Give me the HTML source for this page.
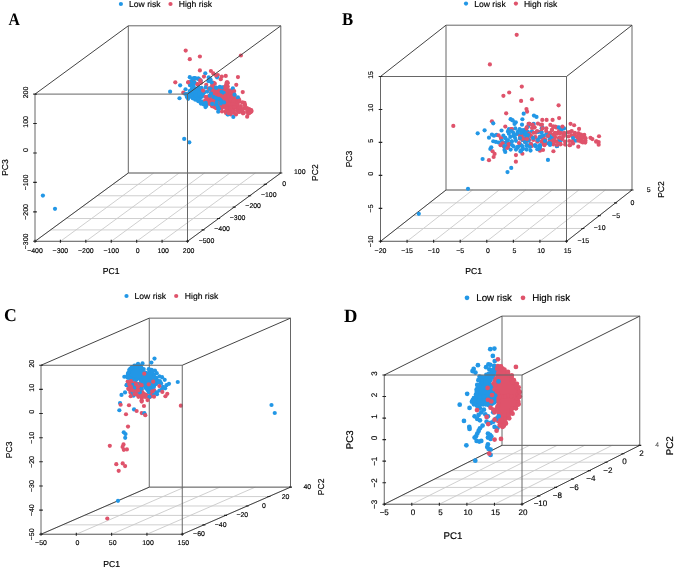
<!DOCTYPE html>
<html><head><meta charset="utf-8"><style>
html,body{margin:0;padding:0;background:#fff;}
svg{display:block;font-family:"Liberation Sans",sans-serif;filter:blur(0.35px);}
text{stroke:#000;stroke-linejoin:round;text-rendering:geometricPrecision;}
</style></head><body>
<svg width="676" height="568" viewBox="0 0 676 568">
<rect width="676" height="568" fill="#fff"/>
<path d="M35 241.3L128.3 173M60.42 241.3L153.72 173M85.83 241.3L179.13 173M111.25 241.3L204.55 173M136.67 241.3L229.97 173M162.08 241.3L255.38 173M187.5 241.3L280.8 173M35 241.3L187.5 241.3M50.55 229.92L203.05 229.92M66.1 218.53L218.6 218.53M81.65 207.15L234.15 207.15M97.2 195.77L249.7 195.77M112.75 184.38L265.25 184.38M128.3 173L280.8 173" stroke="#c9c9c9" stroke-width="0.9" fill="none"/>
<path d="M128.3 25.8L128.3 173L280.8 173" stroke="#666" stroke-width="1" fill="none"/>
<path d="M35 241.3L128.3 173" stroke="#444" stroke-width="1" fill="none"/>
<path d="M208.94 96.08L208.87 96.24L207.04 99.89L208.72 103.16L212.63 105.58L212.64 105.58L215.5 107.38L218.36 105.58L218.47 105.52L218.58 105.48L218.69 105.44L218.81 105.41L218.93 105.4L219.05 105.4L219.17 105.41L219.29 105.44L219.41 105.47L219.52 105.52L219.63 105.58L223.14 107.72L226.55 109.09L229.69 110.34L232.11 109.74L232.16 109.72L235.52 109.05L237.85 107.92L239.03 104.89L239.63 100.72L238.02 99.12L235.2 97.07L235.11 97L235.02 96.92L234.95 96.83L234.88 96.73L234.82 96.63L234.78 96.52L234.74 96.41L234.72 96.3L234.06 92.38L232.33 89.99L229.15 88.71L229.05 88.67L228.95 88.61L228.85 88.54L228.77 88.46L228.69 88.38L228.62 88.29L228.55 88.19L228.5 88.08L228.46 87.98L228.43 87.86L228.41 87.75L227.84 83.2L227.12 83.2L226.58 86.4L226.56 86.51L226.52 86.63L226.47 86.74L226.41 86.84L226.34 86.94L226.26 87.03L226.18 87.12L226.08 87.19L225.98 87.25L225.87 87.3L225.76 87.35L225.64 87.38L225.52 87.39L225.4 87.4L216.2 87.4L216.08 87.39L215.96 87.38L215.84 87.35L215.73 87.3L215.62 87.25L215.52 87.19L215.42 87.12L215.34 87.03L215.26 86.94L215.19 86.84L215.13 86.74L215.08 86.63L215.04 86.51L215.02 86.4L214.48 83.2L212.91 83.2L211.06 89.82L211.04 89.88 Z" fill="#DF536B"/>
<circle cx="208.68" cy="96.47" r="2.1" fill="#DF536B"/>
<circle cx="207.18" cy="98.62" r="2.1" fill="#DF536B"/>
<circle cx="206.98" cy="100.3" r="2.1" fill="#DF536B"/>
<circle cx="208.45" cy="102.25" r="2.1" fill="#DF536B"/>
<circle cx="211.35" cy="103.72" r="2.1" fill="#DF536B"/>
<circle cx="213.47" cy="106.55" r="2.1" fill="#DF536B"/>
<circle cx="215.11" cy="107.17" r="2.1" fill="#DF536B"/>
<circle cx="217.84" cy="106.5" r="2.1" fill="#DF536B"/>
<circle cx="220.55" cy="106.48" r="2.1" fill="#DF536B"/>
<circle cx="223.68" cy="106.69" r="2.1" fill="#DF536B"/>
<circle cx="226.52" cy="108.17" r="2.1" fill="#DF536B"/>
<circle cx="228.51" cy="110.24" r="2.1" fill="#DF536B"/>
<circle cx="230.94" cy="108.76" r="2.1" fill="#DF536B"/>
<circle cx="234.07" cy="108.31" r="2.1" fill="#DF536B"/>
<circle cx="236.46" cy="106.99" r="2.1" fill="#DF536B"/>
<circle cx="237.49" cy="107.14" r="2.1" fill="#DF536B"/>
<circle cx="237.74" cy="104.78" r="2.1" fill="#DF536B"/>
<circle cx="239.75" cy="101.77" r="2.1" fill="#DF536B"/>
<circle cx="239.02" cy="99.34" r="2.1" fill="#DF536B"/>
<circle cx="236.37" cy="99.04" r="2.1" fill="#DF536B"/>
<circle cx="232.86" cy="95.58" r="2.1" fill="#DF536B"/>
<circle cx="233.58" cy="93.01" r="2.1" fill="#DF536B"/>
<circle cx="231.79" cy="91.01" r="2.1" fill="#DF536B"/>
<circle cx="229.61" cy="90.35" r="2.1" fill="#DF536B"/>
<circle cx="227.75" cy="86.54" r="2.1" fill="#DF536B"/>
<circle cx="227.63" cy="83.28" r="2.1" fill="#DF536B"/>
<circle cx="226.8" cy="82.32" r="2.1" fill="#DF536B"/>
<circle cx="226.15" cy="84.67" r="2.1" fill="#DF536B"/>
<circle cx="224.09" cy="87" r="2.1" fill="#DF536B"/>
<circle cx="220.9" cy="88.84" r="2.1" fill="#DF536B"/>
<circle cx="218.68" cy="88.44" r="2.1" fill="#DF536B"/>
<circle cx="213.19" cy="85.64" r="2.1" fill="#DF536B"/>
<circle cx="214.79" cy="83.67" r="2.1" fill="#DF536B"/>
<circle cx="212.46" cy="82.69" r="2.1" fill="#DF536B"/>
<circle cx="212.5" cy="84.56" r="2.1" fill="#DF536B"/>
<circle cx="211.27" cy="87.32" r="2.1" fill="#DF536B"/>
<circle cx="211.21" cy="90.9" r="2.1" fill="#DF536B"/>
<circle cx="210.92" cy="93.68" r="2.1" fill="#DF536B"/>
<path d="M186.2 94.12L186.2 96.55L186.94 97.72L189.51 98.2L192.6 98.2L192.72 98.21L192.84 98.22L192.95 98.25L193.06 98.29L196.16 99.59L196.29 99.66L196.41 99.73L199.01 101.63L199.03 101.64L201.44 103.48L204.88 105.2L206.27 105.2L205.93 104.96L202.85 103.71L202.75 103.67L202.65 103.61L202.56 103.55L202.48 103.47L202.4 103.39L202.33 103.31L202.27 103.22L202.22 103.12L201.02 100.62L200.97 100.51L200.94 100.4L200.91 100.28L200.9 100.17L200.9 100.05L200.91 99.93L200.93 99.82L200.97 99.7L201.01 99.59L201.07 99.49L201.13 99.39L202.97 96.88L204.07 94.58L204.62 92.62L203.53 90.45L202.26 88L201.52 86.83L199.17 87.27L196.72 87.96L196.62 87.98L193.6 88.55L191.28 89.75L188.3 91.52 Z" fill="#2297E6"/>
<circle cx="186.78" cy="94.1" r="2.1" fill="#2297E6"/>
<circle cx="187.7" cy="96.17" r="2.1" fill="#2297E6"/>
<circle cx="186.94" cy="96.99" r="2.1" fill="#2297E6"/>
<circle cx="189.28" cy="96.85" r="2.1" fill="#2297E6"/>
<circle cx="192.8" cy="98.27" r="2.1" fill="#2297E6"/>
<circle cx="195.34" cy="99.63" r="2.1" fill="#2297E6"/>
<circle cx="198.3" cy="101.18" r="2.1" fill="#2297E6"/>
<circle cx="202.08" cy="101.65" r="2.1" fill="#2297E6"/>
<circle cx="203.35" cy="104.37" r="2.1" fill="#2297E6"/>
<circle cx="206.12" cy="106" r="2.1" fill="#2297E6"/>
<circle cx="206.52" cy="104.91" r="2.1" fill="#2297E6"/>
<circle cx="205.71" cy="104.32" r="2.1" fill="#2297E6"/>
<circle cx="200.92" cy="103.62" r="2.1" fill="#2297E6"/>
<circle cx="199.88" cy="97.94" r="2.1" fill="#2297E6"/>
<circle cx="201.79" cy="96.72" r="2.1" fill="#2297E6"/>
<circle cx="202.76" cy="94.26" r="2.1" fill="#2297E6"/>
<circle cx="204.42" cy="92.22" r="2.1" fill="#2297E6"/>
<circle cx="202.16" cy="90.73" r="2.1" fill="#2297E6"/>
<circle cx="201.4" cy="87.75" r="2.1" fill="#2297E6"/>
<circle cx="201.43" cy="89.01" r="2.1" fill="#2297E6"/>
<circle cx="198.53" cy="88.66" r="2.1" fill="#2297E6"/>
<circle cx="194.87" cy="88.46" r="2.1" fill="#2297E6"/>
<circle cx="191.95" cy="88.45" r="2.1" fill="#2297E6"/>
<circle cx="190.86" cy="91.46" r="2.1" fill="#2297E6"/>
<circle cx="189.59" cy="93.6" r="2.1" fill="#2297E6"/>
<circle cx="185.7" cy="50.6" r="2.1" fill="#DF536B"/>
<circle cx="189.8" cy="59.2" r="2.1" fill="#DF536B"/>
<circle cx="199.9" cy="56.5" r="2.1" fill="#DF536B"/>
<circle cx="240.9" cy="55.5" r="2.1" fill="#DF536B"/>
<circle cx="199.9" cy="70.4" r="2.1" fill="#DF536B"/>
<circle cx="175.3" cy="82.3" r="2.1" fill="#DF536B"/>
<circle cx="170.1" cy="91.7" r="2.1" fill="#2297E6"/>
<circle cx="179.5" cy="98.25" r="2.1" fill="#2297E6"/>
<circle cx="180.15" cy="85.3" r="2.1" fill="#2297E6"/>
<circle cx="185.53" cy="89.37" r="2.1" fill="#2297E6"/>
<circle cx="205.3" cy="73.3" r="2.1" fill="#2297E6"/>
<circle cx="210.9" cy="71" r="2.1" fill="#DF536B"/>
<circle cx="213.3" cy="73.4" r="2.1" fill="#DF536B"/>
<circle cx="203.96" cy="76.59" r="2.1" fill="#DF536B"/>
<circle cx="189.77" cy="77.17" r="2.1" fill="#2297E6"/>
<circle cx="194.2" cy="78.1" r="2.1" fill="#2297E6"/>
<circle cx="198.3" cy="78.5" r="2.1" fill="#2297E6"/>
<circle cx="200.5" cy="80.3" r="2.1" fill="#DF536B"/>
<circle cx="208.71" cy="77.44" r="2.1" fill="#2297E6"/>
<circle cx="183.25" cy="92.7" r="2.1" fill="#DF536B"/>
<circle cx="185.3" cy="94" r="2.1" fill="#2297E6"/>
<circle cx="186.94" cy="96.56" r="2.1" fill="#2297E6"/>
<circle cx="190.9" cy="83.7" r="2.1" fill="#2297E6"/>
<circle cx="188.7" cy="82.6" r="2.1" fill="#DF536B"/>
<circle cx="193.5" cy="80.7" r="2.1" fill="#DF536B"/>
<circle cx="184.2" cy="138.9" r="2.1" fill="#2297E6"/>
<circle cx="189.3" cy="142.3" r="2.1" fill="#2297E6"/>
<circle cx="42.9" cy="195.6" r="2.1" fill="#2297E6"/>
<circle cx="55" cy="208.8" r="2.1" fill="#2297E6"/>
<circle cx="217.8" cy="75" r="2.1" fill="#DF536B"/>
<circle cx="221.8" cy="76.6" r="2.1" fill="#DF536B"/>
<circle cx="225.77" cy="75.9" r="2.1" fill="#DF536B"/>
<circle cx="217.05" cy="77.34" r="2.1" fill="#2297E6"/>
<circle cx="237.96" cy="77.09" r="2.1" fill="#DF536B"/>
<circle cx="194.84" cy="78.11" r="2.1" fill="#2297E6"/>
<circle cx="198.46" cy="78.62" r="2.1" fill="#2297E6"/>
<circle cx="216.07" cy="75.52" r="2.1" fill="#DF536B"/>
<circle cx="220.72" cy="79.14" r="2.1" fill="#DF536B"/>
<circle cx="188.62" cy="82.25" r="2.1" fill="#DF536B"/>
<circle cx="191.21" cy="81.21" r="2.1" fill="#2297E6"/>
<circle cx="194.32" cy="82.77" r="2.1" fill="#2297E6"/>
<circle cx="197.43" cy="84.32" r="2.1" fill="#DF536B"/>
<circle cx="200.53" cy="80.7" r="2.1" fill="#2297E6"/>
<circle cx="201.05" cy="82.77" r="2.1" fill="#DF536B"/>
<circle cx="209.85" cy="81.21" r="2.1" fill="#2297E6"/>
<circle cx="210.37" cy="79.14" r="2.1" fill="#2297E6"/>
<circle cx="206.23" cy="84.84" r="2.1" fill="#DF536B"/>
<circle cx="213.75" cy="82.88" r="2.1" fill="#DF536B"/>
<circle cx="212.44" cy="85.36" r="2.1" fill="#DF536B"/>
<circle cx="227.46" cy="82.25" r="2.1" fill="#DF536B"/>
<circle cx="236.26" cy="84.84" r="2.1" fill="#DF536B"/>
<circle cx="190.18" cy="85.36" r="2.1" fill="#2297E6"/>
<circle cx="193.28" cy="85.36" r="2.1" fill="#2297E6"/>
<circle cx="189.66" cy="91.05" r="2.1" fill="#2297E6"/>
<circle cx="194.32" cy="88.46" r="2.1" fill="#2297E6"/>
<circle cx="198.46" cy="87.43" r="2.1" fill="#2297E6"/>
<circle cx="201.57" cy="89.5" r="2.1" fill="#2297E6"/>
<circle cx="203.12" cy="90.53" r="2.1" fill="#DF536B"/>
<circle cx="205.71" cy="87.43" r="2.1" fill="#2297E6"/>
<circle cx="207.26" cy="91.57" r="2.1" fill="#2297E6"/>
<circle cx="208.82" cy="88.46" r="2.1" fill="#DF536B"/>
<circle cx="211.41" cy="89.5" r="2.1" fill="#2297E6"/>
<circle cx="216.07" cy="87.94" r="2.1" fill="#2297E6"/>
<circle cx="219.84" cy="86.9" r="2.1" fill="#2297E6"/>
<circle cx="222.28" cy="87.43" r="2.1" fill="#2297E6"/>
<circle cx="225.38" cy="87.43" r="2.1" fill="#DF536B"/>
<circle cx="232.87" cy="88.38" r="2.1" fill="#2297E6"/>
<circle cx="212.96" cy="90.53" r="2.1" fill="#DF536B"/>
<circle cx="216.07" cy="91.57" r="2.1" fill="#DF536B"/>
<circle cx="221.57" cy="91.73" r="2.1" fill="#2297E6"/>
<circle cx="223.66" cy="92.86" r="2.1" fill="#2297E6"/>
<circle cx="227.46" cy="90.53" r="2.1" fill="#DF536B"/>
<circle cx="230.56" cy="92.6" r="2.1" fill="#DF536B"/>
<circle cx="234.19" cy="91.05" r="2.1" fill="#DF536B"/>
<circle cx="242.73" cy="92.09" r="2.1" fill="#DF536B"/>
<circle cx="191.21" cy="95.71" r="2.1" fill="#2297E6"/>
<circle cx="195.87" cy="95.19" r="2.1" fill="#2297E6"/>
<circle cx="199.5" cy="93.64" r="2.1" fill="#2297E6"/>
<circle cx="202.6" cy="95.71" r="2.1" fill="#2297E6"/>
<circle cx="205.71" cy="96.75" r="2.1" fill="#DF536B"/>
<circle cx="207.26" cy="98.82" r="2.1" fill="#DF536B"/>
<circle cx="209.85" cy="95.71" r="2.1" fill="#2297E6"/>
<circle cx="212.44" cy="94.67" r="2.1" fill="#DF536B"/>
<circle cx="215.03" cy="95.71" r="2.1" fill="#DF536B"/>
<circle cx="217.1" cy="98.82" r="2.1" fill="#DF536B"/>
<circle cx="219.17" cy="95.71" r="2.1" fill="#DF536B"/>
<circle cx="225.38" cy="95.71" r="2.1" fill="#DF536B"/>
<circle cx="228.49" cy="95.71" r="2.1" fill="#DF536B"/>
<circle cx="231.6" cy="96.75" r="2.1" fill="#DF536B"/>
<circle cx="234.7" cy="95.71" r="2.1" fill="#DF536B"/>
<circle cx="237.96" cy="97.38" r="2.1" fill="#2297E6"/>
<circle cx="188.11" cy="98.82" r="2.1" fill="#2297E6"/>
<circle cx="193.28" cy="98.3" r="2.1" fill="#2297E6"/>
<circle cx="198.46" cy="99.33" r="2.1" fill="#2297E6"/>
<circle cx="201.57" cy="101.66" r="2.1" fill="#2297E6"/>
<circle cx="205.19" cy="100.37" r="2.1" fill="#DF536B"/>
<circle cx="208.82" cy="101.92" r="2.1" fill="#DF536B"/>
<circle cx="211.92" cy="100.37" r="2.1" fill="#DF536B"/>
<circle cx="217.1" cy="99.33" r="2.1" fill="#2297E6"/>
<circle cx="220.21" cy="99.85" r="2.1" fill="#2297E6"/>
<circle cx="222.28" cy="101.92" r="2.1" fill="#DF536B"/>
<circle cx="226.42" cy="100.89" r="2.1" fill="#DF536B"/>
<circle cx="230.56" cy="99.85" r="2.1" fill="#DF536B"/>
<circle cx="233.67" cy="100.89" r="2.1" fill="#DF536B"/>
<circle cx="238.85" cy="100.89" r="2.1" fill="#DF536B"/>
<circle cx="242.48" cy="102.46" r="2.1" fill="#DF536B"/>
<circle cx="244.54" cy="102.96" r="2.1" fill="#DF536B"/>
<circle cx="205.71" cy="102.96" r="2.1" fill="#2297E6"/>
<circle cx="209.85" cy="103.99" r="2.1" fill="#DF536B"/>
<circle cx="213.99" cy="102.96" r="2.1" fill="#DF536B"/>
<circle cx="216.07" cy="105.03" r="2.1" fill="#2297E6"/>
<circle cx="219.17" cy="106.07" r="2.1" fill="#DF536B"/>
<circle cx="221.24" cy="103.48" r="2.1" fill="#2297E6"/>
<circle cx="224.35" cy="105.03" r="2.1" fill="#DF536B"/>
<circle cx="228.49" cy="103.99" r="2.1" fill="#DF536B"/>
<circle cx="232.63" cy="103.99" r="2.1" fill="#DF536B"/>
<circle cx="236.78" cy="105.03" r="2.1" fill="#DF536B"/>
<circle cx="240.92" cy="106.07" r="2.1" fill="#DF536B"/>
<circle cx="245.06" cy="105.03" r="2.1" fill="#DF536B"/>
<circle cx="205.46" cy="107.05" r="2.1" fill="#2297E6"/>
<circle cx="211.92" cy="106.07" r="2.1" fill="#DF536B"/>
<circle cx="216.07" cy="108.14" r="2.1" fill="#DF536B"/>
<circle cx="218.14" cy="108.14" r="2.1" fill="#2297E6"/>
<circle cx="221.76" cy="108.14" r="2.1" fill="#DF536B"/>
<circle cx="226.42" cy="108.14" r="2.1" fill="#DF536B"/>
<circle cx="230.56" cy="108.14" r="2.1" fill="#DF536B"/>
<circle cx="234.7" cy="107.1" r="2.1" fill="#DF536B"/>
<circle cx="238.85" cy="108.14" r="2.1" fill="#DF536B"/>
<circle cx="249.2" cy="109.17" r="2.1" fill="#DF536B"/>
<circle cx="251.27" cy="110.21" r="2.1" fill="#DF536B"/>
<circle cx="218.22" cy="111.68" r="2.1" fill="#2297E6"/>
<circle cx="225.38" cy="111.24" r="2.1" fill="#DF536B"/>
<circle cx="230.56" cy="110.72" r="2.1" fill="#DF536B"/>
<circle cx="239.88" cy="110.72" r="2.1" fill="#DF536B"/>
<circle cx="242.99" cy="112.28" r="2.1" fill="#DF536B"/>
<circle cx="247.13" cy="111.76" r="2.1" fill="#DF536B"/>
<circle cx="250.24" cy="112.28" r="2.1" fill="#DF536B"/>
<circle cx="227.46" cy="114.35" r="2.1" fill="#2297E6"/>
<circle cx="230.56" cy="114.35" r="2.1" fill="#DF536B"/>
<circle cx="242.99" cy="113.31" r="2.1" fill="#DF536B"/>
<circle cx="248.17" cy="113.83" r="2.1" fill="#DF536B"/>
<circle cx="233.33" cy="116.92" r="2.1" fill="#2297E6"/>
<circle cx="247.17" cy="116.72" r="2.1" fill="#DF536B"/>
<circle cx="245" cy="105" r="2.1" fill="#DF536B"/>
<circle cx="241.6" cy="111.6" r="2.1" fill="#DF536B"/>
<circle cx="243.7" cy="113" r="2.1" fill="#DF536B"/>
<circle cx="250" cy="110.2" r="2.1" fill="#DF536B"/>
<circle cx="251.4" cy="111.6" r="2.1" fill="#DF536B"/>
<circle cx="249.3" cy="113" r="2.1" fill="#DF536B"/>
<circle cx="244" cy="108" r="2.1" fill="#DF536B"/>
<circle cx="247" cy="108" r="2.1" fill="#DF536B"/>
<circle cx="238" cy="112" r="2.1" fill="#DF536B"/>
<circle cx="234" cy="113" r="2.1" fill="#DF536B"/>
<circle cx="230" cy="114" r="2.1" fill="#DF536B"/>
<circle cx="226" cy="113" r="2.1" fill="#DF536B"/>
<circle cx="222" cy="111.5" r="2.1" fill="#DF536B"/>
<circle cx="236" cy="114.5" r="2.1" fill="#DF536B"/>
<circle cx="219" cy="98.9" r="2.1" fill="#2297E6"/>
<circle cx="221.2" cy="101" r="2.1" fill="#2297E6"/>
<circle cx="224" cy="102.4" r="2.1" fill="#2297E6"/>
<circle cx="217.6" cy="106" r="2.1" fill="#2297E6"/>
<circle cx="219" cy="108.8" r="2.1" fill="#2297E6"/>
<circle cx="228.2" cy="114.4" r="2.1" fill="#2297E6"/>
<circle cx="234.5" cy="94.7" r="2.1" fill="#2297E6"/>
<circle cx="216.2" cy="87.6" r="2.1" fill="#2297E6"/>
<circle cx="192.6" cy="78.5" r="2.1" fill="#2297E6"/>
<circle cx="196.4" cy="78.5" r="2.1" fill="#2297E6"/>
<circle cx="198.9" cy="79.2" r="2.1" fill="#2297E6"/>
<circle cx="190.7" cy="82.3" r="2.1" fill="#2297E6"/>
<circle cx="194.5" cy="82.3" r="2.1" fill="#2297E6"/>
<circle cx="190" cy="84.9" r="2.1" fill="#2297E6"/>
<circle cx="208.4" cy="81.1" r="2.1" fill="#2297E6"/>
<circle cx="210.3" cy="79.8" r="2.1" fill="#2297E6"/>
<circle cx="211.6" cy="82.3" r="2.1" fill="#2297E6"/>
<circle cx="188.1" cy="82.3" r="2.1" fill="#DF536B"/>
<circle cx="200.2" cy="80.4" r="2.1" fill="#DF536B"/>
<circle cx="197.6" cy="84.2" r="2.1" fill="#DF536B"/>
<circle cx="209.7" cy="88.7" r="2.1" fill="#2297E6"/>
<circle cx="211" cy="93.7" r="2.1" fill="#2297E6"/>
<circle cx="213.5" cy="96.9" r="2.1" fill="#2297E6"/>
<circle cx="216" cy="98.2" r="2.1" fill="#2297E6"/>
<circle cx="212.2" cy="103.9" r="2.1" fill="#2297E6"/>
<circle cx="216.7" cy="102.6" r="2.1" fill="#2297E6"/>
<circle cx="234" cy="110.8" r="2.1" fill="#DF536B"/>
<circle cx="237.2" cy="110.2" r="2.1" fill="#DF536B"/>
<circle cx="240.5" cy="108.6" r="2.1" fill="#DF536B"/>
<circle cx="242.3" cy="109.8" r="2.1" fill="#DF536B"/>
<circle cx="245.6" cy="108.7" r="2.1" fill="#DF536B"/>
<circle cx="231" cy="112.3" r="2.1" fill="#DF536B"/>
<circle cx="239.5" cy="111.8" r="2.1" fill="#DF536B"/>
<circle cx="228.5" cy="113.2" r="2.1" fill="#DF536B"/>
<path d="M35 94.1L187.5 94.1L187.5 241.3L35 241.3ZM128.3 25.8L280.8 25.8L280.8 173" stroke="#666" stroke-width="1" fill="none"/>
<path d="M35 94.1L128.3 25.8M187.5 94.1L280.8 25.8M187.5 241.3L280.8 173" stroke="#444" stroke-width="1" fill="none"/>
<path d="M35 239.8L35 242.8M60.42 239.8L60.42 242.8M85.83 239.8L85.83 242.8M111.25 239.8L111.25 242.8M136.67 239.8L136.67 242.8M162.08 239.8L162.08 242.8M187.5 239.8L187.5 242.8M33.2 241.3L36.8 241.3M33.2 211.86L36.8 211.86M33.2 182.42L36.8 182.42M33.2 152.98L36.8 152.98M33.2 123.54L36.8 123.54M33.2 94.1L36.8 94.1M186 241.3L189 241.3M201.55 229.92L204.55 229.92M217.1 218.53L220.1 218.53M232.65 207.15L235.65 207.15M248.2 195.77L251.2 195.77M263.75 184.38L266.75 184.38M279.3 173L282.3 173" stroke="#222" stroke-width="1.1" fill="none"/>
<g font-size="6.95" fill="#000" text-anchor="middle" style="stroke-width:0.15px">
<text x="35" y="253.07">−400</text>
<text x="60.42" y="253.07">−300</text>
<text x="85.83" y="253.07">−200</text>
<text x="111.25" y="253.07">−100</text>
<text x="137.77" y="253.07">0</text>
<text x="163.18" y="253.07">100</text>
<text x="188.6" y="253.07">200</text>
<text transform="translate(25.5 241.4) rotate(-90)" y="2.47">−300</text>
<text transform="translate(25.5 211.96) rotate(-90)" y="2.47">−200</text>
<text transform="translate(25.5 182.52) rotate(-90)" y="2.47">−100</text>
<text transform="translate(25.5 150.08) rotate(-90)" y="2.47">0</text>
<text transform="translate(25.5 121.94) rotate(-90)" y="2.47">100</text>
<text transform="translate(25.5 92.5) rotate(-90)" y="2.47">200</text>
<text x="206.5" y="242.57">−500</text>
<text x="222.05" y="231.18">−400</text>
<text x="237.6" y="219.8">−300</text>
<text x="253.15" y="208.42">−200</text>
<text x="268.7" y="197.03">−100</text>
<text x="284.25" y="185.65">0</text>
<text x="299.8" y="174.27">100</text>
</g>
<g font-size="8.6" fill="#000" text-anchor="middle" style="stroke-width:0.18px">
<text x="111.2" y="274">PC1</text>
<text transform="translate(7.6 167.5) rotate(-90)">PC3</text>
<text transform="translate(318.1 172.7) rotate(-90)">PC2</text>
</g>
<circle cx="120.9" cy="4" r="2.1" fill="#2297E6"/>
<circle cx="170.5" cy="4" r="2.1" fill="#DF536B"/>
<text x="129" y="7" font-size="8.6" fill="#000" style="stroke-width:0.15px">Low risk</text>
<text x="178.7" y="7" font-size="8.6" fill="#000" style="stroke-width:0.15px">High risk</text>
<text transform="translate(8.5 25.4) scale(0.9 1)" font-family="Liberation Serif, serif" font-weight="bold" font-size="17.5" fill="#000" style="stroke:none">A</text>
<path d="M380.5 241.3L446 190M407.07 241.3L472.57 190M433.64 241.3L499.14 190M460.21 241.3L525.71 190M486.79 241.3L552.29 190M513.36 241.3L578.86 190M539.93 241.3L605.43 190M566.5 241.3L632 190M380.5 241.3L566.5 241.3M396.88 228.48L582.88 228.48M413.25 215.65L599.25 215.65M429.62 202.83L615.62 202.83M446 190L632 190" stroke="#c9c9c9" stroke-width="0.9" fill="none"/>
<path d="M446 25.2L446 190L632 190" stroke="#666" stroke-width="1" fill="none"/>
<path d="M380.5 241.3L446 190" stroke="#444" stroke-width="1" fill="none"/>
<circle cx="505.3" cy="126.56" r="2.1" fill="#DF536B"/>
<circle cx="511.54" cy="129.2" r="2.1" fill="#DF536B"/>
<circle cx="520.41" cy="136.3" r="2.1" fill="#DF536B"/>
<circle cx="523.96" cy="138.08" r="2.1" fill="#DF536B"/>
<circle cx="525.74" cy="141.63" r="2.1" fill="#DF536B"/>
<circle cx="531.07" cy="144.29" r="2.1" fill="#DF536B"/>
<circle cx="508.88" cy="144.29" r="2.1" fill="#DF536B"/>
<circle cx="502.66" cy="143.4" r="2.1" fill="#DF536B"/>
<circle cx="500.89" cy="138.08" r="2.1" fill="#DF536B"/>
<circle cx="507.99" cy="146.95" r="2.1" fill="#DF536B"/>
<circle cx="522.38" cy="153.73" r="2.1" fill="#DF536B"/>
<circle cx="515.93" cy="155.07" r="2.1" fill="#DF536B"/>
<circle cx="533.73" cy="123.88" r="2.1" fill="#2297E6"/>
<circle cx="541.72" cy="128.31" r="2.1" fill="#2297E6"/>
<circle cx="542.6" cy="138.08" r="2.1" fill="#2297E6"/>
<circle cx="547.93" cy="135.41" r="2.1" fill="#2297E6"/>
<circle cx="549.7" cy="139.85" r="2.1" fill="#2297E6"/>
<circle cx="556.8" cy="146.07" r="2.1" fill="#2297E6"/>
<circle cx="553.25" cy="138.08" r="2.1" fill="#2297E6"/>
<circle cx="510.61" cy="119.15" r="2.1" fill="#2297E6"/>
<circle cx="512.43" cy="120.33" r="2.1" fill="#2297E6"/>
<circle cx="522.38" cy="119.23" r="2.1" fill="#2297E6"/>
<circle cx="515.82" cy="122.26" r="2.1" fill="#2297E6"/>
<circle cx="522.02" cy="124.66" r="2.1" fill="#2297E6"/>
<circle cx="533.96" cy="115.6" r="2.1" fill="#2297E6"/>
<circle cx="536.52" cy="116.93" r="2.1" fill="#2297E6"/>
<circle cx="542.29" cy="119.93" r="2.1" fill="#DF536B"/>
<circle cx="546.61" cy="119.93" r="2.1" fill="#DF536B"/>
<circle cx="552.58" cy="119.9" r="2.1" fill="#DF536B"/>
<circle cx="559.12" cy="118.07" r="2.1" fill="#DF536B"/>
<circle cx="501.53" cy="130.51" r="2.1" fill="#2297E6"/>
<circle cx="507.99" cy="131.42" r="2.1" fill="#2297E6"/>
<circle cx="553.41" cy="151.27" r="2.1" fill="#DF536B"/>
<circle cx="516.7" cy="34.8" r="2.1" fill="#DF536B"/>
<circle cx="489.9" cy="64.4" r="2.1" fill="#DF536B"/>
<circle cx="521.8" cy="86.6" r="2.1" fill="#DF536B"/>
<circle cx="509.2" cy="92.5" r="2.1" fill="#DF536B"/>
<circle cx="503.4" cy="95.8" r="2.1" fill="#DF536B"/>
<circle cx="521.1" cy="100.93" r="2.1" fill="#DF536B"/>
<circle cx="531.99" cy="99.25" r="2.1" fill="#DF536B"/>
<circle cx="558.6" cy="105.31" r="2.1" fill="#DF536B"/>
<circle cx="468" cy="188.8" r="2.1" fill="#2297E6"/>
<circle cx="418.8" cy="213.8" r="2.1" fill="#2297E6"/>
<circle cx="453.31" cy="125.96" r="2.1" fill="#DF536B"/>
<circle cx="526.46" cy="108.99" r="2.1" fill="#DF536B"/>
<circle cx="527.06" cy="111.72" r="2.1" fill="#DF536B"/>
<circle cx="506.17" cy="113.31" r="2.1" fill="#DF536B"/>
<circle cx="523.67" cy="113.71" r="2.1" fill="#2297E6"/>
<circle cx="512.56" cy="120.24" r="2.1" fill="#2297E6"/>
<circle cx="491.92" cy="121.3" r="2.1" fill="#DF536B"/>
<circle cx="493.25" cy="123.3" r="2.1" fill="#2297E6"/>
<circle cx="514.56" cy="123.96" r="2.1" fill="#2297E6"/>
<circle cx="528.54" cy="123.96" r="2.1" fill="#DF536B"/>
<circle cx="484.6" cy="130.36" r="2.1" fill="#2297E6"/>
<circle cx="477.68" cy="133.28" r="2.1" fill="#2297E6"/>
<circle cx="508.57" cy="131.55" r="2.1" fill="#2297E6"/>
<circle cx="511.89" cy="129.29" r="2.1" fill="#DF536B"/>
<circle cx="515.27" cy="128.47" r="2.1" fill="#2297E6"/>
<circle cx="519.88" cy="129.96" r="2.1" fill="#2297E6"/>
<circle cx="525.21" cy="129.96" r="2.1" fill="#2297E6"/>
<circle cx="527.87" cy="131.95" r="2.1" fill="#2297E6"/>
<circle cx="526.54" cy="128.62" r="2.1" fill="#DF536B"/>
<circle cx="491.92" cy="134.62" r="2.1" fill="#2297E6"/>
<circle cx="493.92" cy="135.68" r="2.1" fill="#2297E6"/>
<circle cx="496.58" cy="134.88" r="2.1" fill="#2297E6"/>
<circle cx="498.58" cy="135.28" r="2.1" fill="#DF536B"/>
<circle cx="503.39" cy="135.55" r="2.1" fill="#2297E6"/>
<circle cx="488.99" cy="137.68" r="2.1" fill="#2297E6"/>
<circle cx="501.24" cy="138.61" r="2.1" fill="#DF536B"/>
<circle cx="505.24" cy="137.94" r="2.1" fill="#2297E6"/>
<circle cx="510.27" cy="136.9" r="2.1" fill="#2297E6"/>
<circle cx="513.22" cy="135.95" r="2.1" fill="#2297E6"/>
<circle cx="517.22" cy="133.95" r="2.1" fill="#2297E6"/>
<circle cx="520.55" cy="135.28" r="2.1" fill="#DF536B"/>
<circle cx="523.88" cy="134.62" r="2.1" fill="#2297E6"/>
<circle cx="527.87" cy="135.95" r="2.1" fill="#2297E6"/>
<circle cx="493.25" cy="141.27" r="2.1" fill="#2297E6"/>
<circle cx="495.92" cy="141.94" r="2.1" fill="#2297E6"/>
<circle cx="498.58" cy="142.6" r="2.1" fill="#2297E6"/>
<circle cx="502.57" cy="143.27" r="2.1" fill="#DF536B"/>
<circle cx="500.58" cy="145.27" r="2.1" fill="#DF536B"/>
<circle cx="505.24" cy="142.6" r="2.1" fill="#2297E6"/>
<circle cx="508.57" cy="143.93" r="2.1" fill="#DF536B"/>
<circle cx="511.89" cy="141.27" r="2.1" fill="#2297E6"/>
<circle cx="519.88" cy="138.61" r="2.1" fill="#DF536B"/>
<circle cx="522.54" cy="139.94" r="2.1" fill="#DF536B"/>
<circle cx="525.21" cy="138.61" r="2.1" fill="#2297E6"/>
<circle cx="529.2" cy="139.94" r="2.1" fill="#DF536B"/>
<circle cx="491.26" cy="147.26" r="2.1" fill="#2297E6"/>
<circle cx="490.33" cy="148.99" r="2.1" fill="#2297E6"/>
<circle cx="503.91" cy="146.6" r="2.1" fill="#DF536B"/>
<circle cx="507.23" cy="145.93" r="2.1" fill="#2297E6"/>
<circle cx="513.6" cy="146.33" r="2.1" fill="#2297E6"/>
<circle cx="519.88" cy="143.93" r="2.1" fill="#2297E6"/>
<circle cx="525.21" cy="141.94" r="2.1" fill="#DF536B"/>
<circle cx="527.87" cy="145.27" r="2.1" fill="#2297E6"/>
<circle cx="492.59" cy="151.26" r="2.1" fill="#DF536B"/>
<circle cx="504.5" cy="149.88" r="2.1" fill="#2297E6"/>
<circle cx="505.24" cy="151.92" r="2.1" fill="#2297E6"/>
<circle cx="507.23" cy="147.93" r="2.1" fill="#DF536B"/>
<circle cx="517.22" cy="147.93" r="2.1" fill="#2297E6"/>
<circle cx="521.21" cy="150.59" r="2.1" fill="#2297E6"/>
<circle cx="494.59" cy="153.92" r="2.1" fill="#DF536B"/>
<circle cx="493.65" cy="156.98" r="2.1" fill="#DF536B"/>
<circle cx="482.6" cy="158.98" r="2.1" fill="#2297E6"/>
<circle cx="488.99" cy="160.18" r="2.1" fill="#DF536B"/>
<circle cx="515.89" cy="161.64" r="2.1" fill="#DF536B"/>
<circle cx="511.23" cy="167.9" r="2.1" fill="#2297E6"/>
<circle cx="507.5" cy="172.03" r="2.1" fill="#2297E6"/>
<circle cx="529.32" cy="123.96" r="2.1" fill="#DF536B"/>
<circle cx="532.65" cy="124.63" r="2.1" fill="#DF536B"/>
<circle cx="537.96" cy="123.59" r="2.1" fill="#DF536B"/>
<circle cx="541.97" cy="124.63" r="2.1" fill="#DF536B"/>
<circle cx="550.36" cy="124.9" r="2.1" fill="#DF536B"/>
<circle cx="553.28" cy="126.63" r="2.1" fill="#DF536B"/>
<circle cx="555.95" cy="127.29" r="2.1" fill="#DF536B"/>
<circle cx="570.5" cy="123.83" r="2.1" fill="#DF536B"/>
<circle cx="574.14" cy="125.25" r="2.1" fill="#DF536B"/>
<circle cx="579.05" cy="128.89" r="2.1" fill="#DF536B"/>
<circle cx="527.99" cy="126.63" r="2.1" fill="#2297E6"/>
<circle cx="534.64" cy="127.29" r="2.1" fill="#DF536B"/>
<circle cx="542.63" cy="127.96" r="2.1" fill="#2297E6"/>
<circle cx="546.31" cy="128.31" r="2.1" fill="#DF536B"/>
<circle cx="551.95" cy="129.96" r="2.1" fill="#DF536B"/>
<circle cx="558.61" cy="127.96" r="2.1" fill="#DF536B"/>
<circle cx="561.27" cy="129.96" r="2.1" fill="#2297E6"/>
<circle cx="564.07" cy="128.47" r="2.1" fill="#2297E6"/>
<circle cx="521.33" cy="130.62" r="2.1" fill="#2297E6"/>
<circle cx="523.99" cy="131.95" r="2.1" fill="#2297E6"/>
<circle cx="531.98" cy="131.29" r="2.1" fill="#2297E6"/>
<circle cx="535.98" cy="132.62" r="2.1" fill="#DF536B"/>
<circle cx="538.4" cy="131.91" r="2.1" fill="#2297E6"/>
<circle cx="541.3" cy="131.29" r="2.1" fill="#DF536B"/>
<circle cx="546.63" cy="133.28" r="2.1" fill="#2297E6"/>
<circle cx="550.62" cy="133.28" r="2.1" fill="#DF536B"/>
<circle cx="554.62" cy="133.95" r="2.1" fill="#DF536B"/>
<circle cx="559.94" cy="133.28" r="2.1" fill="#DF536B"/>
<circle cx="563.93" cy="133.95" r="2.1" fill="#DF536B"/>
<circle cx="568.28" cy="132.24" r="2.1" fill="#DF536B"/>
<circle cx="570.59" cy="131.95" r="2.1" fill="#DF536B"/>
<circle cx="574.59" cy="133.95" r="2.1" fill="#DF536B"/>
<circle cx="578.58" cy="133.28" r="2.1" fill="#DF536B"/>
<circle cx="584.26" cy="134.9" r="2.1" fill="#DF536B"/>
<circle cx="521.33" cy="135.95" r="2.1" fill="#DF536B"/>
<circle cx="526.66" cy="135.95" r="2.1" fill="#2297E6"/>
<circle cx="530.65" cy="135.28" r="2.1" fill="#DF536B"/>
<circle cx="534.64" cy="137.28" r="2.1" fill="#2297E6"/>
<circle cx="539.97" cy="136.61" r="2.1" fill="#DF536B"/>
<circle cx="543.96" cy="135.95" r="2.1" fill="#2297E6"/>
<circle cx="549.29" cy="136.61" r="2.1" fill="#2297E6"/>
<circle cx="554.62" cy="136.61" r="2.1" fill="#DF536B"/>
<circle cx="559.94" cy="137.28" r="2.1" fill="#DF536B"/>
<circle cx="563.93" cy="135.95" r="2.1" fill="#DF536B"/>
<circle cx="568.51" cy="136.46" r="2.1" fill="#DF536B"/>
<circle cx="573.25" cy="136.61" r="2.1" fill="#DF536B"/>
<circle cx="577.25" cy="137.28" r="2.1" fill="#DF536B"/>
<circle cx="581.24" cy="138.61" r="2.1" fill="#DF536B"/>
<circle cx="585.24" cy="138.61" r="2.1" fill="#DF536B"/>
<circle cx="590.47" cy="137.79" r="2.1" fill="#DF536B"/>
<circle cx="592.36" cy="139.12" r="2.1" fill="#DF536B"/>
<circle cx="599.02" cy="136.26" r="2.1" fill="#DF536B"/>
<circle cx="522.66" cy="139.94" r="2.1" fill="#2297E6"/>
<circle cx="525.33" cy="141.94" r="2.1" fill="#DF536B"/>
<circle cx="527.99" cy="139.94" r="2.1" fill="#2297E6"/>
<circle cx="533.31" cy="139.94" r="2.1" fill="#DF536B"/>
<circle cx="537.31" cy="139.94" r="2.1" fill="#2297E6"/>
<circle cx="541.3" cy="141.27" r="2.1" fill="#DF536B"/>
<circle cx="545.3" cy="139.94" r="2.1" fill="#DF536B"/>
<circle cx="550.62" cy="142.6" r="2.1" fill="#2297E6"/>
<circle cx="555.95" cy="141.27" r="2.1" fill="#DF536B"/>
<circle cx="559.94" cy="142.6" r="2.1" fill="#DF536B"/>
<circle cx="561.27" cy="139.94" r="2.1" fill="#2297E6"/>
<circle cx="565.18" cy="144.56" r="2.1" fill="#DF536B"/>
<circle cx="569.28" cy="141.01" r="2.1" fill="#DF536B"/>
<circle cx="573.25" cy="140.61" r="2.1" fill="#DF536B"/>
<circle cx="578.58" cy="139.94" r="2.1" fill="#DF536B"/>
<circle cx="582.57" cy="141.27" r="2.1" fill="#DF536B"/>
<circle cx="585.24" cy="142.6" r="2.1" fill="#DF536B"/>
<circle cx="596.55" cy="141.27" r="2.1" fill="#DF536B"/>
<circle cx="598.68" cy="141.98" r="2.1" fill="#DF536B"/>
<circle cx="598.66" cy="144.67" r="2.1" fill="#DF536B"/>
<circle cx="521.33" cy="145.27" r="2.1" fill="#2297E6"/>
<circle cx="526.66" cy="145.93" r="2.1" fill="#2297E6"/>
<circle cx="530.65" cy="143.93" r="2.1" fill="#2297E6"/>
<circle cx="531.98" cy="145.93" r="2.1" fill="#DF536B"/>
<circle cx="535.98" cy="145.93" r="2.1" fill="#2297E6"/>
<circle cx="539.97" cy="146.6" r="2.1" fill="#2297E6"/>
<circle cx="543.3" cy="143.93" r="2.1" fill="#DF536B"/>
<circle cx="546.63" cy="143.27" r="2.1" fill="#DF536B"/>
<circle cx="557.28" cy="145.93" r="2.1" fill="#2297E6"/>
<circle cx="569.93" cy="145.27" r="2.1" fill="#DF536B"/>
<circle cx="578.29" cy="146.69" r="2.1" fill="#DF536B"/>
<circle cx="521.33" cy="150.59" r="2.1" fill="#2297E6"/>
<circle cx="530.53" cy="150.55" r="2.1" fill="#2297E6"/>
<circle cx="539.96" cy="150.66" r="2.1" fill="#DF536B"/>
<circle cx="522.66" cy="147.93" r="2.1" fill="#2297E6"/>
<circle cx="537.31" cy="149.26" r="2.1" fill="#2297E6"/>
<circle cx="547.96" cy="159.91" r="2.1" fill="#2297E6"/>
<circle cx="508.88" cy="129.2" r="2.1" fill="#2297E6"/>
<circle cx="511.54" cy="129.2" r="2.1" fill="#DF536B"/>
<circle cx="519.53" cy="129.2" r="2.1" fill="#2297E6"/>
<circle cx="523.08" cy="130.09" r="2.1" fill="#2297E6"/>
<circle cx="526.63" cy="127.43" r="2.1" fill="#DF536B"/>
<circle cx="529.29" cy="123.88" r="2.1" fill="#DF536B"/>
<circle cx="531.95" cy="124.76" r="2.1" fill="#DF536B"/>
<circle cx="533.73" cy="127.43" r="2.1" fill="#DF536B"/>
<circle cx="540.83" cy="124.76" r="2.1" fill="#DF536B"/>
<circle cx="542.6" cy="128.31" r="2.1" fill="#DF536B"/>
<circle cx="553.25" cy="126.54" r="2.1" fill="#DF536B"/>
<circle cx="556.8" cy="127.43" r="2.1" fill="#DF536B"/>
<circle cx="508.88" cy="133.64" r="2.1" fill="#2297E6"/>
<circle cx="513.31" cy="132.75" r="2.1" fill="#2297E6"/>
<circle cx="517.75" cy="131.86" r="2.1" fill="#2297E6"/>
<circle cx="522.19" cy="131.86" r="2.1" fill="#2297E6"/>
<circle cx="525.74" cy="132.75" r="2.1" fill="#2297E6"/>
<circle cx="529.29" cy="133.64" r="2.1" fill="#DF536B"/>
<circle cx="533.73" cy="132.75" r="2.1" fill="#DF536B"/>
<circle cx="541.72" cy="132.75" r="2.1" fill="#2297E6"/>
<circle cx="546.15" cy="130.98" r="2.1" fill="#DF536B"/>
<circle cx="549.7" cy="132.75" r="2.1" fill="#DF536B"/>
<circle cx="555.03" cy="132.75" r="2.1" fill="#DF536B"/>
<circle cx="558.58" cy="131.86" r="2.1" fill="#DF536B"/>
<circle cx="505.33" cy="138.08" r="2.1" fill="#2297E6"/>
<circle cx="515.09" cy="138.08" r="2.1" fill="#2297E6"/>
<circle cx="520.41" cy="136.3" r="2.1" fill="#DF536B"/>
<circle cx="523.08" cy="138.96" r="2.1" fill="#DF536B"/>
<circle cx="527.51" cy="137.19" r="2.1" fill="#2297E6"/>
<circle cx="531.07" cy="136.3" r="2.1" fill="#DF536B"/>
<circle cx="535.5" cy="137.19" r="2.1" fill="#DF536B"/>
<circle cx="539.94" cy="137.19" r="2.1" fill="#2297E6"/>
<circle cx="543.49" cy="138.08" r="2.1" fill="#DF536B"/>
<circle cx="547.93" cy="136.3" r="2.1" fill="#2297E6"/>
<circle cx="551.48" cy="138.96" r="2.1" fill="#2297E6"/>
<circle cx="555.03" cy="137.19" r="2.1" fill="#DF536B"/>
<circle cx="558.58" cy="138.08" r="2.1" fill="#DF536B"/>
<circle cx="501.78" cy="140.74" r="2.1" fill="#2297E6"/>
<circle cx="502.66" cy="143.4" r="2.1" fill="#DF536B"/>
<circle cx="507.1" cy="140.74" r="2.1" fill="#2297E6"/>
<circle cx="511.54" cy="141.63" r="2.1" fill="#2297E6"/>
<circle cx="515.99" cy="140.87" r="2.1" fill="#2297E6"/>
<circle cx="525.74" cy="141.63" r="2.1" fill="#DF536B"/>
<circle cx="528.4" cy="140.74" r="2.1" fill="#2297E6"/>
<circle cx="531.07" cy="144.29" r="2.1" fill="#DF536B"/>
<circle cx="537.28" cy="141.63" r="2.1" fill="#DF536B"/>
<circle cx="541.72" cy="141.63" r="2.1" fill="#DF536B"/>
<circle cx="544.38" cy="140.74" r="2.1" fill="#DF536B"/>
<circle cx="549.7" cy="141.63" r="2.1" fill="#DF536B"/>
<circle cx="553.25" cy="140.74" r="2.1" fill="#DF536B"/>
<circle cx="557.69" cy="141.63" r="2.1" fill="#DF536B"/>
<circle cx="504.44" cy="146.07" r="2.1" fill="#2297E6"/>
<circle cx="508.88" cy="144.29" r="2.1" fill="#DF536B"/>
<circle cx="517.75" cy="146.95" r="2.1" fill="#2297E6"/>
<circle cx="522.19" cy="146.07" r="2.1" fill="#2297E6"/>
<circle cx="526.63" cy="145.18" r="2.1" fill="#2297E6"/>
<circle cx="531.07" cy="144.29" r="2.1" fill="#DF536B"/>
<circle cx="535.5" cy="146.07" r="2.1" fill="#2297E6"/>
<circle cx="539.94" cy="145.18" r="2.1" fill="#2297E6"/>
<circle cx="544.38" cy="145.18" r="2.1" fill="#DF536B"/>
<circle cx="548.82" cy="143.4" r="2.1" fill="#2297E6"/>
<circle cx="553.25" cy="144.29" r="2.1" fill="#DF536B"/>
<circle cx="556.8" cy="146.07" r="2.1" fill="#2297E6"/>
<circle cx="510.65" cy="149.62" r="2.1" fill="#2297E6"/>
<circle cx="515.98" cy="149.62" r="2.1" fill="#2297E6"/>
<circle cx="520.41" cy="151.39" r="2.1" fill="#2297E6"/>
<circle cx="526.63" cy="149.62" r="2.1" fill="#2297E6"/>
<circle cx="539.05" cy="148.73" r="2.1" fill="#2297E6"/>
<circle cx="555.33" cy="126.54" r="2.1" fill="#DF536B"/>
<circle cx="558.88" cy="127.43" r="2.1" fill="#2297E6"/>
<circle cx="561.54" cy="129.64" r="2.1" fill="#2297E6"/>
<circle cx="562.43" cy="126.54" r="2.1" fill="#DF536B"/>
<circle cx="571.75" cy="130.98" r="2.1" fill="#DF536B"/>
<circle cx="574.85" cy="132.75" r="2.1" fill="#DF536B"/>
<circle cx="578.4" cy="133.64" r="2.1" fill="#DF536B"/>
<circle cx="581.07" cy="134.53" r="2.1" fill="#DF536B"/>
<circle cx="571.3" cy="135.41" r="2.1" fill="#DF536B"/>
<circle cx="573.08" cy="138.08" r="2.1" fill="#2297E6"/>
<circle cx="576.63" cy="136.3" r="2.1" fill="#DF536B"/>
<circle cx="579.29" cy="137.19" r="2.1" fill="#DF536B"/>
<circle cx="582.84" cy="137.19" r="2.1" fill="#DF536B"/>
<circle cx="585.5" cy="138.08" r="2.1" fill="#DF536B"/>
<circle cx="572.19" cy="141.63" r="2.1" fill="#DF536B"/>
<circle cx="575.74" cy="140.74" r="2.1" fill="#2297E6"/>
<circle cx="578.4" cy="140.74" r="2.1" fill="#DF536B"/>
<circle cx="581.07" cy="141.63" r="2.1" fill="#DF536B"/>
<circle cx="583.73" cy="141.63" r="2.1" fill="#DF536B"/>
<circle cx="585.5" cy="140.74" r="2.1" fill="#DF536B"/>
<circle cx="569.53" cy="145.18" r="2.1" fill="#DF536B"/>
<circle cx="573.08" cy="143.4" r="2.1" fill="#DF536B"/>
<circle cx="582.84" cy="142.51" r="2.1" fill="#DF536B"/>
<circle cx="596.15" cy="141.63" r="2.1" fill="#DF536B"/>
<circle cx="550" cy="136.3" r="2.1" fill="#2297E6"/>
<circle cx="551.78" cy="138.08" r="2.1" fill="#2297E6"/>
<circle cx="553.55" cy="134.53" r="2.1" fill="#DF536B"/>
<circle cx="557.1" cy="133.64" r="2.1" fill="#DF536B"/>
<circle cx="560.65" cy="132.75" r="2.1" fill="#DF536B"/>
<circle cx="563.31" cy="135.41" r="2.1" fill="#DF536B"/>
<circle cx="564.2" cy="132.75" r="2.1" fill="#DF536B"/>
<circle cx="552.66" cy="140.74" r="2.1" fill="#DF536B"/>
<circle cx="555.33" cy="141.63" r="2.1" fill="#DF536B"/>
<circle cx="559.76" cy="139.85" r="2.1" fill="#2297E6"/>
<circle cx="562.43" cy="138.96" r="2.1" fill="#DF536B"/>
<circle cx="565.09" cy="141.63" r="2.1" fill="#DF536B"/>
<circle cx="560.65" cy="144.29" r="2.1" fill="#DF536B"/>
<circle cx="557.1" cy="145.62" r="2.1" fill="#2297E6"/>
<circle cx="550" cy="143.4" r="2.1" fill="#2297E6"/>
<circle cx="511.4" cy="131" r="2.1" fill="#2297E6"/>
<circle cx="515" cy="135" r="2.1" fill="#2297E6"/>
<circle cx="520" cy="138" r="2.1" fill="#2297E6"/>
<circle cx="525" cy="142" r="2.1" fill="#2297E6"/>
<circle cx="512" cy="145" r="2.1" fill="#2297E6"/>
<circle cx="518" cy="147" r="2.1" fill="#2297E6"/>
<circle cx="523" cy="149" r="2.1" fill="#2297E6"/>
<circle cx="530" cy="147" r="2.1" fill="#2297E6"/>
<circle cx="535" cy="145" r="2.1" fill="#2297E6"/>
<circle cx="540" cy="148" r="2.1" fill="#2297E6"/>
<circle cx="528" cy="135" r="2.1" fill="#2297E6"/>
<circle cx="533" cy="138" r="2.1" fill="#2297E6"/>
<circle cx="538" cy="140" r="2.1" fill="#2297E6"/>
<circle cx="508" cy="140" r="2.1" fill="#2297E6"/>
<circle cx="545" cy="141" r="2.1" fill="#2297E6"/>
<circle cx="550" cy="145" r="2.1" fill="#2297E6"/>
<circle cx="552" cy="130" r="2.1" fill="#DF536B"/>
<circle cx="556" cy="133" r="2.1" fill="#DF536B"/>
<circle cx="548" cy="136" r="2.1" fill="#DF536B"/>
<circle cx="554" cy="140" r="2.1" fill="#DF536B"/>
<circle cx="560" cy="138" r="2.1" fill="#DF536B"/>
<circle cx="557" cy="145" r="2.1" fill="#DF536B"/>
<circle cx="543" cy="150" r="2.1" fill="#DF536B"/>
<circle cx="537" cy="131" r="2.1" fill="#DF536B"/>
<circle cx="532" cy="128" r="2.1" fill="#DF536B"/>
<circle cx="521" cy="133" r="2.1" fill="#2297E6"/>
<circle cx="527" cy="139" r="2.1" fill="#DF536B"/>
<circle cx="542" cy="136" r="2.1" fill="#2297E6"/>
<circle cx="519" cy="143" r="2.1" fill="#DF536B"/>
<path d="M380.5 76.5L566.5 76.5L566.5 241.3L380.5 241.3ZM446 25.2L632 25.2L632 190" stroke="#666" stroke-width="1" fill="none"/>
<path d="M380.5 76.5L446 25.2M566.5 76.5L632 25.2M566.5 241.3L632 190" stroke="#444" stroke-width="1" fill="none"/>
<path d="M380.5 239.8L380.5 242.8M407.07 239.8L407.07 242.8M433.64 239.8L433.64 242.8M460.21 239.8L460.21 242.8M486.79 239.8L486.79 242.8M513.36 239.8L513.36 242.8M539.93 239.8L539.93 242.8M566.5 239.8L566.5 242.8M378.7 241.3L382.3 241.3M378.7 208.34L382.3 208.34M378.7 175.38L382.3 175.38M378.7 142.42L382.3 142.42M378.7 109.46L382.3 109.46M378.7 76.5L382.3 76.5M565 241.3L568 241.3M581.38 228.48L584.38 228.48M597.75 215.65L600.75 215.65M614.12 202.83L617.12 202.83M630.5 190L633.5 190" stroke="#222" stroke-width="1.1" fill="none"/>
<g font-size="6.95" fill="#000" text-anchor="middle" style="stroke-width:0.15px">
<text x="380.5" y="253.07">−20</text>
<text x="407.07" y="253.07">−15</text>
<text x="433.64" y="253.07">−10</text>
<text x="460.21" y="253.07">−5</text>
<text x="487.89" y="253.07">0</text>
<text x="514.46" y="253.07">5</text>
<text x="541.03" y="253.07">10</text>
<text x="567.6" y="253.07">15</text>
<text transform="translate(371 241.4) rotate(-90)" y="2.47">−10</text>
<text transform="translate(371 208.44) rotate(-90)" y="2.47">−5</text>
<text transform="translate(371 173.78) rotate(-90)" y="2.47">0</text>
<text transform="translate(371 140.82) rotate(-90)" y="2.47">5</text>
<text transform="translate(371 107.86) rotate(-90)" y="2.47">10</text>
<text transform="translate(371 74.9) rotate(-90)" y="2.47">15</text>
<text x="583.3" y="243.27">−15</text>
<text x="599.67" y="230.44">−10</text>
<text x="616.05" y="217.62">−5</text>
<text x="632.42" y="204.79">0</text>
<text x="648.8" y="191.97">5</text>
</g>
<g font-size="8.6" fill="#000" text-anchor="middle" style="stroke-width:0.18px">
<text x="473.6" y="274">PC1</text>
<text transform="translate(352.2 159) rotate(-90)">PC3</text>
<text transform="translate(663.9 189.5) rotate(-90)">PC2</text>
</g>
<circle cx="466" cy="3.6" r="2.1" fill="#2297E6"/>
<circle cx="515.9" cy="3.6" r="2.1" fill="#DF536B"/>
<text x="474.2" y="7" font-size="8.6" fill="#000" style="stroke-width:0.15px">Low risk</text>
<text x="523.9" y="7" font-size="8.6" fill="#000" style="stroke-width:0.15px">High risk</text>
<text transform="translate(342.1 25.45) scale(0.93 1)" font-family="Liberation Serif, serif" font-weight="bold" font-size="18" fill="#000" style="stroke:none">B</text>
<path d="M41 534.25L149.25 487.15M76.31 534.25L184.56 487.15M111.62 534.25L219.88 487.15M146.94 534.25L255.19 487.15M182.25 534.25L290.5 487.15M41 534.25L182.25 534.25M62.65 524.83L203.9 524.83M84.3 515.41L225.55 515.41M105.95 505.99L247.2 505.99M127.6 496.57L268.85 496.57M149.25 487.15L290.5 487.15" stroke="#c9c9c9" stroke-width="0.9" fill="none"/>
<path d="M149.25 318.15L149.25 487.15L290.5 487.15" stroke="#666" stroke-width="1" fill="none"/>
<path d="M41 534.25L149.25 487.15" stroke="#444" stroke-width="1" fill="none"/>
<path d="M127.61 382.51L126.88 386.9L127.66 390.04L130.05 394.02L133.14 395.57L137.42 396.43L146.18 398.18L150.22 398.18L152.99 396.79L153.72 393.17L153.18 390.5L153.1 390.55L151.5 392.94L151.43 393.04L151.35 393.13L151.26 393.21L151.17 393.28L148.51 395.05L148.4 395.11L148.3 395.16L148.19 395.2L148.07 395.23L147.96 395.25L147.84 395.25L147.72 395.25L147.61 395.23L147.49 395.2L147.38 395.16L147.27 395.11L147.17 395.05L147.08 394.98L146.99 394.9L144.33 392.24L144.24 392.14L144.17 392.04L144.1 391.93L141.44 386.6L139.91 383.55L136.9 382.79L133.42 381.92L130.23 381.52 Z" fill="#DF536B"/>
<circle cx="127.71" cy="381.6" r="2.1" fill="#DF536B"/>
<circle cx="126.8" cy="384.96" r="2.1" fill="#DF536B"/>
<circle cx="128.85" cy="386.98" r="2.1" fill="#DF536B"/>
<circle cx="128.78" cy="389.11" r="2.1" fill="#DF536B"/>
<circle cx="130.48" cy="392.43" r="2.1" fill="#DF536B"/>
<circle cx="131.26" cy="392.97" r="2.1" fill="#DF536B"/>
<circle cx="133.29" cy="394.62" r="2.1" fill="#DF536B"/>
<circle cx="136.46" cy="394.39" r="2.1" fill="#DF536B"/>
<circle cx="139.78" cy="394.82" r="2.1" fill="#DF536B"/>
<circle cx="141.84" cy="398.08" r="2.1" fill="#DF536B"/>
<circle cx="145.16" cy="397.01" r="2.1" fill="#DF536B"/>
<circle cx="148.23" cy="396.28" r="2.1" fill="#DF536B"/>
<circle cx="149.85" cy="396.89" r="2.1" fill="#DF536B"/>
<circle cx="151.67" cy="395.93" r="2.1" fill="#DF536B"/>
<circle cx="151.75" cy="394.66" r="2.1" fill="#DF536B"/>
<circle cx="151.85" cy="392.09" r="2.1" fill="#DF536B"/>
<circle cx="154.11" cy="390.18" r="2.1" fill="#DF536B"/>
<circle cx="152.66" cy="390.75" r="2.1" fill="#DF536B"/>
<circle cx="151.18" cy="395.03" r="2.1" fill="#DF536B"/>
<circle cx="146.31" cy="394.87" r="2.1" fill="#DF536B"/>
<circle cx="142.65" cy="392.64" r="2.1" fill="#DF536B"/>
<circle cx="141.64" cy="389.38" r="2.1" fill="#DF536B"/>
<circle cx="140.99" cy="386.62" r="2.1" fill="#DF536B"/>
<circle cx="140.11" cy="383.79" r="2.1" fill="#DF536B"/>
<circle cx="137.77" cy="383.83" r="2.1" fill="#DF536B"/>
<circle cx="135.24" cy="382.67" r="2.1" fill="#DF536B"/>
<circle cx="131.93" cy="382.29" r="2.1" fill="#DF536B"/>
<circle cx="130.28" cy="382.91" r="2.1" fill="#DF536B"/>
<path d="M128.45 370.72L126.78 374.06L126.06 376.97L127.36 378.92L128.45 379.47L131.57 378.69L131.69 378.67L131.81 378.65L131.92 378.65L132.04 378.67L132.15 378.69L135.71 379.58L139.26 380.46L139.39 380.5L139.51 380.56L139.63 380.63L142.29 382.4L142.39 382.47L142.48 382.55L142.56 382.64L142.63 382.74L144.4 385.4L144.46 385.51L144.52 385.62L146.17 389.74L149.13 391.97L149.33 391.97L150.68 391.29L153.2 388.77L158.45 383.53L159.71 381.63L158.45 379.73L155.87 377.15L155.78 377.05L155.71 376.95L155.64 376.84L153.9 373.35L152.3 370.95L150.42 369.7L147.49 371.16L147.38 371.21L147.27 371.25L147.15 371.27L147.04 371.29L146.92 371.29L146.8 371.28L146.69 371.26L146.57 371.23L143.91 370.34L143.8 370.3L143.69 370.24L143.59 370.17L143.49 370.1L143.41 370.01L143.33 369.92L143.26 369.82L140.85 365.81L138.15 365.13L134.95 366.33L134.87 366.36L130.81 367.57 Z" fill="#2297E6"/>
<circle cx="130.01" cy="371.12" r="2.1" fill="#2297E6"/>
<circle cx="127.93" cy="373.73" r="2.1" fill="#2297E6"/>
<circle cx="127.3" cy="376.22" r="2.1" fill="#2297E6"/>
<circle cx="127.45" cy="377.6" r="2.1" fill="#2297E6"/>
<circle cx="129.3" cy="377.75" r="2.1" fill="#2297E6"/>
<circle cx="130.49" cy="378.64" r="2.1" fill="#2297E6"/>
<circle cx="133.29" cy="379.29" r="2.1" fill="#2297E6"/>
<circle cx="136.3" cy="379.8" r="2.1" fill="#2297E6"/>
<circle cx="140.76" cy="380.38" r="2.1" fill="#2297E6"/>
<circle cx="142.74" cy="383.16" r="2.1" fill="#2297E6"/>
<circle cx="144.65" cy="386.16" r="2.1" fill="#2297E6"/>
<circle cx="146.01" cy="388.33" r="2.1" fill="#2297E6"/>
<circle cx="147.72" cy="390.16" r="2.1" fill="#2297E6"/>
<circle cx="148.74" cy="392.11" r="2.1" fill="#2297E6"/>
<circle cx="150.08" cy="391.09" r="2.1" fill="#2297E6"/>
<circle cx="151.37" cy="388.58" r="2.1" fill="#2297E6"/>
<circle cx="153.98" cy="386.7" r="2.1" fill="#2297E6"/>
<circle cx="156.29" cy="383.99" r="2.1" fill="#2297E6"/>
<circle cx="157.61" cy="382.51" r="2.1" fill="#2297E6"/>
<circle cx="159.91" cy="381.18" r="2.1" fill="#2297E6"/>
<circle cx="157.14" cy="380.08" r="2.1" fill="#2297E6"/>
<circle cx="156.17" cy="377.94" r="2.1" fill="#2297E6"/>
<circle cx="154.09" cy="374.91" r="2.1" fill="#2297E6"/>
<circle cx="152.57" cy="372.03" r="2.1" fill="#2297E6"/>
<circle cx="151.7" cy="369.8" r="2.1" fill="#2297E6"/>
<circle cx="150.11" cy="369.73" r="2.1" fill="#2297E6"/>
<circle cx="145.39" cy="372.72" r="2.1" fill="#2297E6"/>
<circle cx="143.7" cy="369.05" r="2.1" fill="#2297E6"/>
<circle cx="141.28" cy="367.27" r="2.1" fill="#2297E6"/>
<circle cx="139.56" cy="365.65" r="2.1" fill="#2297E6"/>
<circle cx="137.35" cy="364.91" r="2.1" fill="#2297E6"/>
<circle cx="134.42" cy="365.72" r="2.1" fill="#2297E6"/>
<circle cx="132.26" cy="367.15" r="2.1" fill="#2297E6"/>
<circle cx="130.35" cy="368.6" r="2.1" fill="#2297E6"/>
<circle cx="159.38" cy="376.3" r="2.1" fill="#2297E6"/>
<circle cx="162.04" cy="377.19" r="2.1" fill="#2297E6"/>
<circle cx="164.7" cy="379.85" r="2.1" fill="#2297E6"/>
<circle cx="169" cy="383.81" r="2.1" fill="#2297E6"/>
<circle cx="166.48" cy="385.18" r="2.1" fill="#2297E6"/>
<circle cx="162.93" cy="386.95" r="2.1" fill="#2297E6"/>
<circle cx="165.15" cy="388.28" r="2.1" fill="#2297E6"/>
<circle cx="159.38" cy="390.5" r="2.1" fill="#2297E6"/>
<circle cx="156.72" cy="392.28" r="2.1" fill="#2297E6"/>
<circle cx="154.05" cy="394.05" r="2.1" fill="#2297E6"/>
<circle cx="161.15" cy="383.4" r="2.1" fill="#2297E6"/>
<circle cx="158.49" cy="381.63" r="2.1" fill="#2297E6"/>
<circle cx="137.19" cy="384.29" r="2.1" fill="#2297E6"/>
<circle cx="139.85" cy="386.95" r="2.1" fill="#2297E6"/>
<circle cx="134.53" cy="387.84" r="2.1" fill="#2297E6"/>
<circle cx="141.63" cy="388.73" r="2.1" fill="#2297E6"/>
<circle cx="132.75" cy="392.28" r="2.1" fill="#2297E6"/>
<circle cx="126.54" cy="385.18" r="2.1" fill="#2297E6"/>
<circle cx="132.75" cy="384.73" r="2.1" fill="#2297E6"/>
<circle cx="139.85" cy="392.28" r="2.1" fill="#2297E6"/>
<circle cx="133.47" cy="395.71" r="2.1" fill="#2297E6"/>
<circle cx="149.45" cy="396.82" r="2.1" fill="#2297E6"/>
<circle cx="156.99" cy="394.16" r="2.1" fill="#2297E6"/>
<circle cx="162.04" cy="388.73" r="2.1" fill="#2297E6"/>
<circle cx="125.04" cy="392.4" r="2.1" fill="#2297E6"/>
<circle cx="121.49" cy="394.93" r="2.1" fill="#2297E6"/>
<circle cx="144.29" cy="373.64" r="2.1" fill="#DF536B"/>
<circle cx="130.98" cy="381.18" r="2.1" fill="#DF536B"/>
<circle cx="153.17" cy="381.63" r="2.1" fill="#DF536B"/>
<circle cx="159.38" cy="386.07" r="2.1" fill="#DF536B"/>
<circle cx="162.32" cy="391.94" r="2.1" fill="#DF536B"/>
<circle cx="167.31" cy="393.82" r="2.1" fill="#DF536B"/>
<circle cx="165.42" cy="396.26" r="2.1" fill="#DF536B"/>
<circle cx="148.73" cy="384.29" r="2.1" fill="#DF536B"/>
<circle cx="134.53" cy="394.05" r="2.1" fill="#DF536B"/>
<circle cx="138.46" cy="396.82" r="2.1" fill="#DF536B"/>
<circle cx="141.64" cy="400.29" r="2.1" fill="#DF536B"/>
<circle cx="154.5" cy="358.55" r="2.1" fill="#2297E6"/>
<circle cx="151.39" cy="362.54" r="2.1" fill="#2297E6"/>
<circle cx="142.51" cy="363.43" r="2.1" fill="#2297E6"/>
<circle cx="138.08" cy="363.88" r="2.1" fill="#2297E6"/>
<circle cx="124.32" cy="376.75" r="2.1" fill="#2297E6"/>
<circle cx="154.94" cy="370.53" r="2.1" fill="#2297E6"/>
<circle cx="156.72" cy="373.2" r="2.1" fill="#2297E6"/>
<circle cx="129.2" cy="370.09" r="2.1" fill="#2297E6"/>
<circle cx="128.31" cy="372.75" r="2.1" fill="#2297E6"/>
<circle cx="127.43" cy="376.3" r="2.1" fill="#2297E6"/>
<circle cx="131.86" cy="367.43" r="2.1" fill="#2297E6"/>
<circle cx="136.3" cy="366.54" r="2.1" fill="#2297E6"/>
<circle cx="140.74" cy="367.43" r="2.1" fill="#2297E6"/>
<circle cx="148.73" cy="369.2" r="2.1" fill="#2297E6"/>
<circle cx="152.28" cy="370.98" r="2.1" fill="#2297E6"/>
<circle cx="129.2" cy="384.29" r="2.1" fill="#DF536B"/>
<circle cx="130.98" cy="386.95" r="2.1" fill="#DF536B"/>
<circle cx="128.31" cy="388.73" r="2.1" fill="#DF536B"/>
<circle cx="136.3" cy="384.29" r="2.1" fill="#DF536B"/>
<circle cx="138.08" cy="386.95" r="2.1" fill="#DF536B"/>
<circle cx="141.63" cy="385.18" r="2.1" fill="#DF536B"/>
<circle cx="132.75" cy="390.5" r="2.1" fill="#DF536B"/>
<circle cx="138.08" cy="390.5" r="2.1" fill="#DF536B"/>
<circle cx="144.29" cy="394.05" r="2.1" fill="#DF536B"/>
<circle cx="153.99" cy="396.71" r="2.1" fill="#DF536B"/>
<circle cx="152.28" cy="391.39" r="2.1" fill="#DF536B"/>
<circle cx="130.64" cy="396.26" r="2.1" fill="#DF536B"/>
<circle cx="141.69" cy="401.58" r="2.1" fill="#DF536B"/>
<circle cx="147.54" cy="400.09" r="2.1" fill="#DF536B"/>
<circle cx="120.04" cy="403.06" r="2.1" fill="#2297E6"/>
<circle cx="120.64" cy="404.76" r="2.1" fill="#DF536B"/>
<circle cx="128.97" cy="405.26" r="2.1" fill="#DF536B"/>
<circle cx="143.97" cy="405.99" r="2.1" fill="#DF536B"/>
<circle cx="119.36" cy="410.27" r="2.1" fill="#2297E6"/>
<circle cx="134.03" cy="409.39" r="2.1" fill="#2297E6"/>
<circle cx="136.62" cy="411" r="2.1" fill="#DF536B"/>
<circle cx="125.99" cy="414.27" r="2.1" fill="#DF536B"/>
<circle cx="141.73" cy="413.05" r="2.1" fill="#DF536B"/>
<circle cx="144.37" cy="413.18" r="2.1" fill="#2297E6"/>
<circle cx="145.29" cy="415.2" r="2.1" fill="#DF536B"/>
<circle cx="180.86" cy="405.66" r="2.1" fill="#DF536B"/>
<circle cx="128" cy="426.6" r="2.1" fill="#DF536B"/>
<circle cx="123.8" cy="432.3" r="2.1" fill="#2297E6"/>
<circle cx="125.5" cy="434.1" r="2.1" fill="#2297E6"/>
<circle cx="125.2" cy="437.8" r="2.1" fill="#2297E6"/>
<circle cx="123.5" cy="444.4" r="2.1" fill="#DF536B"/>
<circle cx="122.6" cy="446.9" r="2.1" fill="#DF536B"/>
<circle cx="123.8" cy="449.8" r="2.1" fill="#DF536B"/>
<circle cx="126.9" cy="449.4" r="2.1" fill="#DF536B"/>
<circle cx="109.8" cy="445.8" r="2.1" fill="#DF536B"/>
<circle cx="116.3" cy="464.2" r="2.1" fill="#DF536B"/>
<circle cx="122.7" cy="463.4" r="2.1" fill="#DF536B"/>
<circle cx="125.1" cy="466.1" r="2.1" fill="#DF536B"/>
<circle cx="118.7" cy="470.8" r="2.1" fill="#DF536B"/>
<circle cx="118" cy="500.8" r="2.1" fill="#2297E6"/>
<circle cx="107.3" cy="518.5" r="2.1" fill="#DF536B"/>
<circle cx="271.5" cy="405" r="2.1" fill="#2297E6"/>
<circle cx="274.75" cy="413" r="2.1" fill="#2297E6"/>
<circle cx="177.75" cy="382" r="2.1" fill="#2297E6"/>
<path d="M41 365.25L182.25 365.25L182.25 534.25L41 534.25ZM149.25 318.15L290.5 318.15L290.5 487.15" stroke="#666" stroke-width="1" fill="none"/>
<path d="M41 365.25L149.25 318.15M182.25 365.25L290.5 318.15M182.25 534.25L290.5 487.15" stroke="#444" stroke-width="1" fill="none"/>
<path d="M41 532.75L41 535.75M76.31 532.75L76.31 535.75M111.62 532.75L111.62 535.75M146.94 532.75L146.94 535.75M182.25 532.75L182.25 535.75M39.2 534.25L42.8 534.25M39.2 510.11L42.8 510.11M39.2 485.96L42.8 485.96M39.2 461.82L42.8 461.82M39.2 437.68L42.8 437.68M39.2 413.54L42.8 413.54M39.2 389.39L42.8 389.39M39.2 365.25L42.8 365.25M180.75 534.25L183.75 534.25M202.4 524.83L205.4 524.83M224.05 515.41L227.05 515.41M245.7 505.99L248.7 505.99M267.35 496.57L270.35 496.57M289 487.15L292 487.15" stroke="#222" stroke-width="1.1" fill="none"/>
<g font-size="6.95" fill="#000" text-anchor="middle" style="stroke-width:0.15px">
<text x="41" y="545.42">−50</text>
<text x="77.41" y="545.42">0</text>
<text x="112.72" y="545.42">50</text>
<text x="148.04" y="545.42">100</text>
<text x="183.35" y="545.42">150</text>
<text transform="translate(31.5 534.35) rotate(-90)" y="2.47">−50</text>
<text transform="translate(31.5 510.21) rotate(-90)" y="2.47">−40</text>
<text transform="translate(31.5 486.06) rotate(-90)" y="2.47">−30</text>
<text transform="translate(31.5 461.92) rotate(-90)" y="2.47">−20</text>
<text transform="translate(31.5 437.78) rotate(-90)" y="2.47">−10</text>
<text transform="translate(31.5 411.94) rotate(-90)" y="2.47">0</text>
<text transform="translate(31.5 387.79) rotate(-90)" y="2.47">10</text>
<text transform="translate(31.5 363.65) rotate(-90)" y="2.47">20</text>
<text x="199" y="536.22">−60</text>
<text x="220.65" y="526.8">−40</text>
<text x="242.3" y="517.38">−20</text>
<text x="263.95" y="507.96">0</text>
<text x="285.6" y="498.54">20</text>
<text x="307.25" y="489.12">40</text>
</g>
<g font-size="8.6" fill="#000" text-anchor="middle" style="stroke-width:0.18px">
<text x="111.6" y="566.5">PC1</text>
<text transform="translate(12.3 449.8) rotate(-90)">PC3</text>
<text transform="translate(323.9 486.8) rotate(-90)">PC2</text>
</g>
<circle cx="126.5" cy="296" r="2.1" fill="#2297E6"/>
<circle cx="176.2" cy="296" r="2.1" fill="#DF536B"/>
<text x="134.5" y="299" font-size="8.6" fill="#000" style="stroke-width:0.15px">Low risk</text>
<text x="184.8" y="299" font-size="8.6" fill="#000" style="stroke-width:0.15px">High risk</text>
<text transform="translate(4 320.8) scale(0.98 1)" font-family="Liberation Serif, serif" font-weight="bold" font-size="18" fill="#000" style="stroke:none">C</text>
<path d="M384.25 504.25L502 445.35M411.8 504.25L529.55 445.35M439.35 504.25L557.1 445.35M466.9 504.25L584.65 445.35M494.45 504.25L612.2 445.35M522 504.25L639.75 445.35M384.25 504.25L522 504.25M401.07 495.84L538.82 495.84M417.89 487.42L555.64 487.42M434.71 479.01L572.46 479.01M451.54 470.59L589.29 470.59M468.36 462.18L606.11 462.18M485.18 453.76L622.93 453.76M502 445.35L639.75 445.35" stroke="#c9c9c9" stroke-width="0.9" fill="none"/>
<path d="M502 316.1L502 445.35L639.75 445.35" stroke="#666" stroke-width="1" fill="none"/>
<path d="M384.25 504.25L502 445.35" stroke="#444" stroke-width="1" fill="none"/>
<path d="M489.98 370.41L488.94 372.49L488.88 372.6L488.81 372.7L488.73 372.79L488.64 372.88L488.54 372.95L484.99 375.32L484.86 375.39L480.62 377.51L479.57 381.68L478.4 387.57L478.38 387.63L476.61 394.73L476.59 394.8L475.31 398.8L496.14 398.8L496.14 396.95L494.99 392.36L493.84 387.76L491.53 383.14L491.48 383.03L491.45 382.92L491.42 382.81L491.41 382.69L491.4 382.57L491.41 382.45L491.43 382.34L491.47 382.22L492.65 378.67L492.69 378.57L492.73 378.48L492.79 378.39L495.04 375.01L496.12 370.69L495.6 365.99L495.16 365.55L493.6 367.88L493.53 367.98L493.45 368.07L493.36 368.15L493.27 368.22 Z" fill="#2297E6"/>
<circle cx="489.38" cy="369.39" r="2.37" fill="#2297E6"/>
<circle cx="488.88" cy="373.84" r="2.37" fill="#2297E6"/>
<circle cx="486.36" cy="374.95" r="2.37" fill="#2297E6"/>
<circle cx="483.34" cy="377.64" r="2.37" fill="#2297E6"/>
<circle cx="481.99" cy="377.4" r="2.37" fill="#2297E6"/>
<circle cx="481.49" cy="380.13" r="2.37" fill="#2297E6"/>
<circle cx="480.89" cy="383.38" r="2.37" fill="#2297E6"/>
<circle cx="478.93" cy="385.61" r="2.37" fill="#2297E6"/>
<circle cx="477.32" cy="389.2" r="2.37" fill="#2297E6"/>
<circle cx="476.96" cy="391.6" r="2.37" fill="#2297E6"/>
<circle cx="478.23" cy="395.66" r="2.37" fill="#2297E6"/>
<circle cx="475.39" cy="397.8" r="2.37" fill="#2297E6"/>
<circle cx="473.9" cy="398.24" r="2.37" fill="#2297E6"/>
<circle cx="477.78" cy="399.24" r="2.37" fill="#2297E6"/>
<circle cx="480.13" cy="398.55" r="2.37" fill="#2297E6"/>
<circle cx="483.31" cy="398.16" r="2.37" fill="#2297E6"/>
<circle cx="486.5" cy="398.49" r="2.37" fill="#2297E6"/>
<circle cx="489.6" cy="398.42" r="2.37" fill="#2297E6"/>
<circle cx="492.26" cy="398.67" r="2.37" fill="#2297E6"/>
<circle cx="495.26" cy="399.1" r="2.37" fill="#2297E6"/>
<circle cx="496.26" cy="398.56" r="2.37" fill="#2297E6"/>
<circle cx="494.84" cy="396.29" r="2.37" fill="#2297E6"/>
<circle cx="493.53" cy="393" r="2.37" fill="#2297E6"/>
<circle cx="492.3" cy="390.48" r="2.37" fill="#2297E6"/>
<circle cx="492.24" cy="387.91" r="2.37" fill="#2297E6"/>
<circle cx="490.91" cy="385.33" r="2.37" fill="#2297E6"/>
<circle cx="490.35" cy="380.25" r="2.37" fill="#2297E6"/>
<circle cx="493.16" cy="377.54" r="2.37" fill="#2297E6"/>
<circle cx="493.73" cy="375.09" r="2.37" fill="#2297E6"/>
<circle cx="494.87" cy="371.92" r="2.37" fill="#2297E6"/>
<circle cx="496.18" cy="369.66" r="2.37" fill="#2297E6"/>
<circle cx="496.37" cy="366.83" r="2.37" fill="#2297E6"/>
<circle cx="494.09" cy="365.82" r="2.37" fill="#2297E6"/>
<circle cx="494.62" cy="366.94" r="2.37" fill="#2297E6"/>
<circle cx="492.94" cy="369.91" r="2.37" fill="#2297E6"/>
<path d="M497.45 366.73L497.94 370.62L497.95 370.74L497.94 370.85L497.93 370.97L497.9 371.08L497.87 371.19L496.09 375.92L496.08 375.95L493.85 381.53L494.96 387.1L496.15 393.02L496.15 393.05L497.16 398.8L517.72 398.8L518.62 395.46L518.62 391.01L517.53 385.56L514.24 382.27L514.15 382.17L514.08 382.07L514.02 381.96L511.65 377.22L510.55 375.03L508.41 372.89L504.96 370.58L504.86 370.51L504.77 370.43L504.69 370.35L504.62 370.25L502.43 366.97L499.7 365.6 Z" fill="#DF536B"/>
<circle cx="497.89" cy="366" r="2.37" fill="#DF536B"/>
<circle cx="497.3" cy="368.65" r="2.37" fill="#DF536B"/>
<circle cx="498.21" cy="373.02" r="2.37" fill="#DF536B"/>
<circle cx="497.99" cy="375.7" r="2.37" fill="#DF536B"/>
<circle cx="495.94" cy="378.51" r="2.37" fill="#DF536B"/>
<circle cx="495.09" cy="380.75" r="2.37" fill="#DF536B"/>
<circle cx="493.67" cy="383.36" r="2.37" fill="#DF536B"/>
<circle cx="494.94" cy="385.51" r="2.37" fill="#DF536B"/>
<circle cx="494.66" cy="389.25" r="2.37" fill="#DF536B"/>
<circle cx="497.15" cy="391.53" r="2.37" fill="#DF536B"/>
<circle cx="497.08" cy="394.8" r="2.37" fill="#DF536B"/>
<circle cx="497.09" cy="397.67" r="2.37" fill="#DF536B"/>
<circle cx="497.71" cy="396.57" r="2.37" fill="#DF536B"/>
<circle cx="500.61" cy="398.77" r="2.37" fill="#DF536B"/>
<circle cx="503.08" cy="398.03" r="2.37" fill="#DF536B"/>
<circle cx="506.04" cy="397.21" r="2.37" fill="#DF536B"/>
<circle cx="509.37" cy="399.51" r="2.37" fill="#DF536B"/>
<circle cx="512.69" cy="399.09" r="2.37" fill="#DF536B"/>
<circle cx="515.59" cy="397" r="2.37" fill="#DF536B"/>
<circle cx="516.59" cy="397.45" r="2.37" fill="#DF536B"/>
<circle cx="518.77" cy="397.1" r="2.37" fill="#DF536B"/>
<circle cx="518.14" cy="394.19" r="2.37" fill="#DF536B"/>
<circle cx="518.8" cy="390.86" r="2.37" fill="#DF536B"/>
<circle cx="517.3" cy="388.45" r="2.37" fill="#DF536B"/>
<circle cx="516.22" cy="386.55" r="2.37" fill="#DF536B"/>
<circle cx="515.77" cy="383.95" r="2.37" fill="#DF536B"/>
<circle cx="512.24" cy="382.1" r="2.37" fill="#DF536B"/>
<circle cx="511.8" cy="378.47" r="2.37" fill="#DF536B"/>
<circle cx="511.71" cy="375.66" r="2.37" fill="#DF536B"/>
<circle cx="508.07" cy="374.89" r="2.37" fill="#DF536B"/>
<circle cx="506.7" cy="372.58" r="2.37" fill="#DF536B"/>
<circle cx="503.53" cy="371.4" r="2.37" fill="#DF536B"/>
<circle cx="502.53" cy="368.58" r="2.37" fill="#DF536B"/>
<circle cx="500.92" cy="366.45" r="2.37" fill="#DF536B"/>
<circle cx="499.86" cy="367.05" r="2.37" fill="#DF536B"/>
<path d="M497.12 396.2L497.12 414.85L498.39 421.23L500.71 425.87L503.15 426.28L504.12 423.84L504.17 423.75L504.22 423.66L504.28 423.57L508.21 418.33L510.82 413.1L510.87 413.01L510.93 412.92L514.93 407.59L515.01 407.49L515.11 407.4L515.22 407.32L518.68 405.01L518.68 396.2 Z" fill="#DF536B"/>
<circle cx="497.85" cy="394.55" r="2.37" fill="#DF536B"/>
<circle cx="498.37" cy="397.97" r="2.37" fill="#DF536B"/>
<circle cx="497.14" cy="401.24" r="2.37" fill="#DF536B"/>
<circle cx="498.62" cy="404.16" r="2.37" fill="#DF536B"/>
<circle cx="497.3" cy="406.9" r="2.37" fill="#DF536B"/>
<circle cx="496.58" cy="409.71" r="2.37" fill="#DF536B"/>
<circle cx="498.69" cy="412.73" r="2.37" fill="#DF536B"/>
<circle cx="499.34" cy="415.39" r="2.37" fill="#DF536B"/>
<circle cx="497.32" cy="418.34" r="2.37" fill="#DF536B"/>
<circle cx="498.22" cy="420.95" r="2.37" fill="#DF536B"/>
<circle cx="499.86" cy="424.38" r="2.37" fill="#DF536B"/>
<circle cx="500.51" cy="424.55" r="2.37" fill="#DF536B"/>
<circle cx="503.35" cy="425.5" r="2.37" fill="#DF536B"/>
<circle cx="503.82" cy="425.72" r="2.37" fill="#DF536B"/>
<circle cx="505.52" cy="422.55" r="2.37" fill="#DF536B"/>
<circle cx="505.62" cy="418.73" r="2.37" fill="#DF536B"/>
<circle cx="508.51" cy="417.47" r="2.37" fill="#DF536B"/>
<circle cx="508.79" cy="414.46" r="2.37" fill="#DF536B"/>
<circle cx="511.54" cy="412.61" r="2.37" fill="#DF536B"/>
<circle cx="512.1" cy="408.83" r="2.37" fill="#DF536B"/>
<circle cx="515.78" cy="408.02" r="2.37" fill="#DF536B"/>
<circle cx="517.64" cy="404.75" r="2.37" fill="#DF536B"/>
<circle cx="518.29" cy="403.7" r="2.37" fill="#DF536B"/>
<circle cx="518.21" cy="401.49" r="2.37" fill="#DF536B"/>
<circle cx="517.7" cy="398.31" r="2.37" fill="#DF536B"/>
<circle cx="519.77" cy="396.27" r="2.37" fill="#DF536B"/>
<circle cx="516.66" cy="397.9" r="2.37" fill="#DF536B"/>
<circle cx="513.73" cy="396.78" r="2.37" fill="#DF536B"/>
<circle cx="511.06" cy="396.4" r="2.37" fill="#DF536B"/>
<circle cx="507.49" cy="395.89" r="2.37" fill="#DF536B"/>
<circle cx="504.81" cy="396.72" r="2.37" fill="#DF536B"/>
<circle cx="501.43" cy="396.84" r="2.37" fill="#DF536B"/>
<circle cx="499.38" cy="396.85" r="2.37" fill="#DF536B"/>
<path d="M475.36 396.2L473.22 400.47L474.27 404.66L478.76 405.78L483.82 405.78L490.2 404.51L494.72 402.25L494.72 396.2 Z" fill="#2297E6"/>
<circle cx="477.02" cy="395.95" r="2.37" fill="#2297E6"/>
<circle cx="474.77" cy="398.48" r="2.37" fill="#2297E6"/>
<circle cx="472.81" cy="400.16" r="2.37" fill="#2297E6"/>
<circle cx="474.81" cy="402.68" r="2.37" fill="#2297E6"/>
<circle cx="475.02" cy="403.44" r="2.37" fill="#2297E6"/>
<circle cx="477.04" cy="405.85" r="2.37" fill="#2297E6"/>
<circle cx="479.74" cy="405.04" r="2.37" fill="#2297E6"/>
<circle cx="483.11" cy="404.31" r="2.37" fill="#2297E6"/>
<circle cx="485.36" cy="403.99" r="2.37" fill="#2297E6"/>
<circle cx="488.62" cy="405.07" r="2.37" fill="#2297E6"/>
<circle cx="491.86" cy="403.78" r="2.37" fill="#2297E6"/>
<circle cx="493.99" cy="402.56" r="2.37" fill="#2297E6"/>
<circle cx="494.17" cy="400.9" r="2.37" fill="#2297E6"/>
<circle cx="494.09" cy="398.66" r="2.37" fill="#2297E6"/>
<circle cx="495.16" cy="395.58" r="2.37" fill="#2297E6"/>
<circle cx="493.38" cy="396.93" r="2.37" fill="#2297E6"/>
<circle cx="490.42" cy="397.79" r="2.37" fill="#2297E6"/>
<circle cx="486.55" cy="396.83" r="2.37" fill="#2297E6"/>
<circle cx="483.33" cy="397.56" r="2.37" fill="#2297E6"/>
<circle cx="480.61" cy="396.34" r="2.37" fill="#2297E6"/>
<circle cx="477.18" cy="395.79" r="2.37" fill="#2297E6"/>
<circle cx="490.24" cy="349.23" r="2.37" fill="#2297E6"/>
<circle cx="494.38" cy="348.52" r="2.37" fill="#2297E6"/>
<circle cx="492.84" cy="355.98" r="2.37" fill="#2297E6"/>
<circle cx="494.73" cy="361.07" r="2.37" fill="#2297E6"/>
<circle cx="477.93" cy="365.21" r="2.37" fill="#2297E6"/>
<circle cx="486.09" cy="367.22" r="2.37" fill="#2297E6"/>
<circle cx="488.46" cy="364.26" r="2.37" fill="#2297E6"/>
<circle cx="490.24" cy="364.85" r="2.37" fill="#2297E6"/>
<circle cx="473.67" cy="368.99" r="2.37" fill="#2297E6"/>
<circle cx="472.49" cy="371.01" r="2.37" fill="#2297E6"/>
<circle cx="475.44" cy="372.54" r="2.37" fill="#2297E6"/>
<circle cx="467.16" cy="393.85" r="2.37" fill="#2297E6"/>
<circle cx="475.4" cy="399.27" r="2.37" fill="#2297E6"/>
<circle cx="479.59" cy="376.69" r="2.37" fill="#2297E6"/>
<circle cx="497.93" cy="359.29" r="2.37" fill="#DF536B"/>
<circle cx="515.92" cy="366.98" r="2.37" fill="#DF536B"/>
<circle cx="487.63" cy="387.93" r="2.37" fill="#DF536B"/>
<circle cx="492.01" cy="395.03" r="2.37" fill="#DF536B"/>
<circle cx="487.9" cy="399.75" r="2.37" fill="#DF536B"/>
<circle cx="498.52" cy="381.42" r="2.37" fill="#2297E6"/>
<circle cx="500.89" cy="367.22" r="2.37" fill="#DF536B"/>
<circle cx="504.44" cy="369.59" r="2.37" fill="#DF536B"/>
<circle cx="507.99" cy="371.95" r="2.37" fill="#DF536B"/>
<circle cx="511.54" cy="375.5" r="2.37" fill="#DF536B"/>
<circle cx="513.91" cy="380.24" r="2.37" fill="#DF536B"/>
<circle cx="516.86" cy="383.79" r="2.37" fill="#DF536B"/>
<circle cx="518.64" cy="387.34" r="2.37" fill="#DF536B"/>
<circle cx="519.82" cy="392.07" r="2.37" fill="#DF536B"/>
<circle cx="519.23" cy="396.8" r="2.37" fill="#DF536B"/>
<circle cx="478.4" cy="380.24" r="2.37" fill="#2297E6"/>
<circle cx="477.22" cy="384.97" r="2.37" fill="#2297E6"/>
<circle cx="476.63" cy="389.7" r="2.37" fill="#2297E6"/>
<circle cx="476.04" cy="394.44" r="2.37" fill="#2297E6"/>
<circle cx="459.7" cy="404.72" r="2.37" fill="#2297E6"/>
<circle cx="469.56" cy="407.91" r="2.37" fill="#2297E6"/>
<circle cx="463.96" cy="420.96" r="2.37" fill="#2297E6"/>
<circle cx="469.29" cy="426.95" r="2.37" fill="#2297E6"/>
<circle cx="469.56" cy="428.95" r="2.37" fill="#2297E6"/>
<circle cx="466.36" cy="445.33" r="2.37" fill="#2297E6"/>
<circle cx="475.28" cy="460.64" r="2.37" fill="#2297E6"/>
<circle cx="471.95" cy="401.66" r="2.37" fill="#2297E6"/>
<circle cx="474.62" cy="400.99" r="2.37" fill="#2297E6"/>
<circle cx="473.95" cy="404.32" r="2.37" fill="#2297E6"/>
<circle cx="479.94" cy="397" r="2.37" fill="#2297E6"/>
<circle cx="483.93" cy="396.33" r="2.37" fill="#2297E6"/>
<circle cx="482.6" cy="402.99" r="2.37" fill="#2297E6"/>
<circle cx="485.93" cy="404.32" r="2.37" fill="#2297E6"/>
<circle cx="479.94" cy="408.31" r="2.37" fill="#2297E6"/>
<circle cx="483.93" cy="409.64" r="2.37" fill="#2297E6"/>
<circle cx="481.27" cy="412.31" r="2.37" fill="#2297E6"/>
<circle cx="478.61" cy="414.97" r="2.37" fill="#2297E6"/>
<circle cx="474.62" cy="416.3" r="2.37" fill="#2297E6"/>
<circle cx="477.28" cy="418.96" r="2.37" fill="#2297E6"/>
<circle cx="479.94" cy="420.3" r="2.37" fill="#2297E6"/>
<circle cx="485.27" cy="414.3" r="2.37" fill="#2297E6"/>
<circle cx="487.93" cy="416.3" r="2.37" fill="#2297E6"/>
<circle cx="493.25" cy="412.31" r="2.37" fill="#2297E6"/>
<circle cx="486.6" cy="421.63" r="2.37" fill="#2297E6"/>
<circle cx="490.59" cy="422.96" r="2.37" fill="#2297E6"/>
<circle cx="482.6" cy="425.62" r="2.37" fill="#2297E6"/>
<circle cx="479.94" cy="428.28" r="2.37" fill="#2297E6"/>
<circle cx="478.61" cy="430.95" r="2.37" fill="#2297E6"/>
<circle cx="477.28" cy="433.61" r="2.37" fill="#2297E6"/>
<circle cx="475.95" cy="436.27" r="2.37" fill="#2297E6"/>
<circle cx="474.62" cy="437.6" r="2.37" fill="#2297E6"/>
<circle cx="476.61" cy="440.93" r="2.37" fill="#2297E6"/>
<circle cx="479.28" cy="441.6" r="2.37" fill="#2297E6"/>
<circle cx="481.27" cy="440.93" r="2.37" fill="#2297E6"/>
<circle cx="487.93" cy="433.61" r="2.37" fill="#2297E6"/>
<circle cx="489.93" cy="434.94" r="2.37" fill="#2297E6"/>
<circle cx="491.26" cy="436.27" r="2.37" fill="#2297E6"/>
<circle cx="487.93" cy="437.6" r="2.37" fill="#2297E6"/>
<circle cx="490.59" cy="438.93" r="2.37" fill="#2297E6"/>
<circle cx="487.93" cy="444.26" r="2.37" fill="#2297E6"/>
<circle cx="487.26" cy="446.92" r="2.37" fill="#2297E6"/>
<circle cx="488.59" cy="448.92" r="2.37" fill="#2297E6"/>
<circle cx="490.59" cy="449.59" r="2.37" fill="#2297E6"/>
<circle cx="490.59" cy="454.91" r="2.37" fill="#2297E6"/>
<circle cx="494.59" cy="426.95" r="2.37" fill="#2297E6"/>
<circle cx="497.25" cy="428.28" r="2.37" fill="#2297E6"/>
<circle cx="493.25" cy="421.63" r="2.37" fill="#2297E6"/>
<circle cx="495.92" cy="418.96" r="2.37" fill="#2297E6"/>
<circle cx="498.58" cy="416.3" r="2.37" fill="#2297E6"/>
<circle cx="477.01" cy="410.04" r="2.37" fill="#DF536B"/>
<circle cx="491.26" cy="401.39" r="2.37" fill="#DF536B"/>
<circle cx="490.59" cy="407.65" r="2.37" fill="#DF536B"/>
<circle cx="493.25" cy="409.64" r="2.37" fill="#DF536B"/>
<circle cx="494.59" cy="412.31" r="2.37" fill="#DF536B"/>
<circle cx="486.6" cy="416.97" r="2.37" fill="#DF536B"/>
<circle cx="494.59" cy="419.63" r="2.37" fill="#DF536B"/>
<circle cx="488.2" cy="424.02" r="2.37" fill="#DF536B"/>
<circle cx="496.58" cy="430.68" r="2.37" fill="#DF536B"/>
<circle cx="494.59" cy="439.6" r="2.37" fill="#DF536B"/>
<circle cx="500.98" cy="438.93" r="2.37" fill="#DF536B"/>
<circle cx="489.26" cy="453.58" r="2.37" fill="#DF536B"/>
<circle cx="518.55" cy="404.32" r="2.37" fill="#DF536B"/>
<circle cx="515.89" cy="408.31" r="2.37" fill="#DF536B"/>
<circle cx="512.56" cy="413.64" r="2.37" fill="#DF536B"/>
<circle cx="509.23" cy="418.3" r="2.37" fill="#DF536B"/>
<circle cx="505.9" cy="423.62" r="2.37" fill="#DF536B"/>
<circle cx="502.57" cy="426.95" r="2.37" fill="#DF536B"/>
<circle cx="499.91" cy="425.62" r="2.37" fill="#DF536B"/>
<path d="M384.25 375L522 375L522 504.25L384.25 504.25ZM502 316.1L639.75 316.1L639.75 445.35" stroke="#666" stroke-width="1" fill="none"/>
<path d="M384.25 375L502 316.1M522 375L639.75 316.1M522 504.25L639.75 445.35" stroke="#444" stroke-width="1" fill="none"/>
<path d="M384.25 502.75L384.25 505.75M411.8 502.75L411.8 505.75M439.35 502.75L439.35 505.75M466.9 502.75L466.9 505.75M494.45 502.75L494.45 505.75M522 502.75L522 505.75M382.45 504.25L386.05 504.25M382.45 482.71L386.05 482.71M382.45 461.17L386.05 461.17M382.45 439.62L386.05 439.62M382.45 418.08L386.05 418.08M382.45 396.54L386.05 396.54M382.45 375L386.05 375M520.5 504.25L523.5 504.25M537.32 495.84L540.32 495.84M554.14 487.42L557.14 487.42M570.96 479.01L573.96 479.01M587.79 470.59L590.79 470.59M604.61 462.18L607.61 462.18M621.43 453.76L624.43 453.76M638.25 445.35L641.25 445.35" stroke="#222" stroke-width="1.1" fill="none"/>
<g font-size="8.06" fill="#000" text-anchor="middle" style="stroke-width:0.15px">
<text x="384.25" y="514.51">−5</text>
<text x="412.9" y="514.51">0</text>
<text x="440.45" y="514.51">5</text>
<text x="468" y="514.51">10</text>
<text x="495.55" y="514.51">15</text>
<text x="523.1" y="514.51">20</text>
<text transform="translate(373.75 504.35) rotate(-90)" y="2.86">−3</text>
<text transform="translate(373.75 482.81) rotate(-90)" y="2.86">−2</text>
<text transform="translate(373.75 461.27) rotate(-90)" y="2.86">−1</text>
<text transform="translate(373.75 438.02) rotate(-90)" y="2.86">0</text>
<text transform="translate(373.75 416.48) rotate(-90)" y="2.86">1</text>
<text transform="translate(373.75 394.94) rotate(-90)" y="2.86">2</text>
<text transform="translate(373.75 373.4) rotate(-90)" y="2.86">3</text>
<text x="540.5" y="506.41">−10</text>
<text x="557.32" y="498">−8</text>
<text x="574.14" y="489.58">−6</text>
<text x="590.96" y="481.17">−4</text>
<text x="607.79" y="472.75">−2</text>
<text x="624.61" y="464.34">0</text>
<text x="641.43" y="455.93">2</text>
<text x="657.25" y="447.01" font-size="6.8" fill="#444" style="stroke:none">4</text>
</g>
<g font-size="9.72" fill="#000" text-anchor="middle" style="stroke-width:0.18px">
<text x="453" y="538.8">PC1</text>
<text transform="translate(353 439.7) rotate(-90)">PC3</text>
<text transform="translate(673.2 445.8) rotate(-90)">PC2</text>
</g>
<circle cx="467" cy="297.8" r="2.37" fill="#2297E6"/>
<circle cx="523" cy="297.8" r="2.37" fill="#DF536B"/>
<text x="476.3" y="301.3" font-size="9.72" fill="#000" style="stroke-width:0.15px">Low risk</text>
<text x="532.2" y="301.3" font-size="9.72" fill="#000" style="stroke-width:0.15px">High risk</text>
<text transform="translate(343.9 321.7) scale(0.99 1)" font-family="Liberation Serif, serif" font-weight="bold" font-size="18.8" fill="#000" style="stroke:none">D</text>
</svg>
</body></html>
